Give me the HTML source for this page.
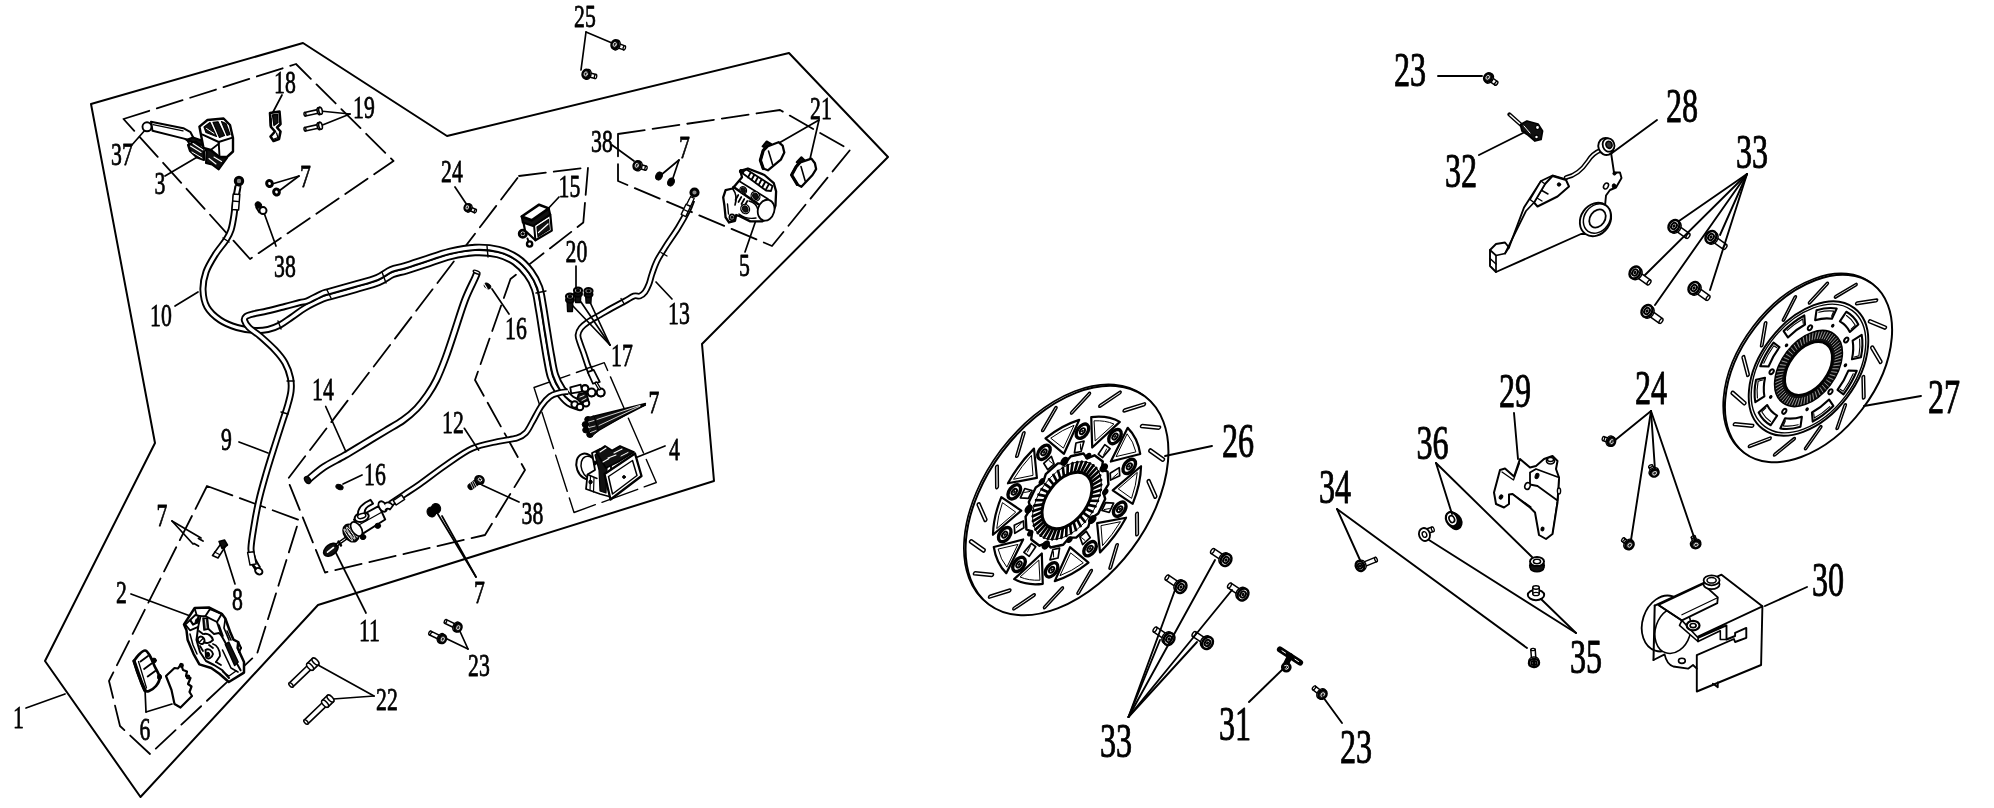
<!DOCTYPE html>
<html><head><meta charset="utf-8"><title>Brake system parts diagram</title>
<style>
html,body{margin:0;padding:0;background:#fff;}
body{width:1994px;height:808px;overflow:hidden;font-family:"Liberation Serif",serif;}
svg{display:block}
</style></head><body>
<svg width="1994" height="808" viewBox="0 0 1994 808" font-family="Liberation Serif, serif" stroke="#000" fill="none" stroke-linecap="round" stroke-linejoin="round">
<defs><filter id="nf" x="-10%" y="-10%" width="120%" height="120%"><feOffset dx="0" dy="0"/></filter></defs>
<rect x="0" y="0" width="1994" height="808" fill="#fff" stroke="none"/>
<path d="M91,104 L303,43 L447,136 L789,53 L888,157 L702,344 L714,481 L318,605 L140.5,797 L45,661 L155,443 Z" fill="none" stroke-width="2.0" />
<path d="M123.5,119 L296,64 L393.5,161 L250,259 Z" fill="none" stroke-width="1.8" stroke-dasharray="27 8" />
<path d="M519,176 L588,167.5 L583.3,222.5 L510.5,279 L475,380 L525,470 L485,535 L325,572.5 L287.5,479.5 Z" fill="none" stroke-width="1.8" stroke-dasharray="27 8" />
<path d="M618,134 L780,110 L850,150 L772,246 L618,181 Z" fill="none" stroke-width="1.8" stroke-dasharray="27 8" />
<path d="M534,387.5 L604.3,362.7 L656.3,482.5 L574,512.5 Z" fill="none" stroke-width="1.4" stroke-dasharray="38 7" />
<path d="M207,486 L299,520 L257,654 L150,754 L120,726 L109,681 Z" fill="none" stroke-width="1.8" stroke-dasharray="27 8" />
<path d="M238.0,186.0 C237.7,188.0 236.7,193.2 236.0,198.0 C235.3,202.8 234.8,209.7 234.0,215.0 C233.2,220.3 232.3,225.8 231.0,230.0 C229.7,234.2 228.7,235.8 226.0,240.0 C223.3,244.2 218.3,249.7 215.0,255.0 C211.7,260.3 208.0,266.2 206.0,272.0 C204.0,277.8 202.8,284.2 203.0,290.0 C203.2,295.8 204.2,302.0 207.0,307.0 C209.8,312.0 215.0,316.6 220.0,320.0 C225.0,323.4 231.2,325.8 237.0,327.5 C242.8,329.2 249.8,330.2 255.0,330.5 C260.2,330.8 263.8,330.4 268.0,329.5 C272.2,328.6 276.0,327.1 280.0,325.0 C284.0,322.9 287.8,319.8 292.0,317.0 C296.2,314.2 299.9,311.0 305.0,308.0 C310.1,305.0 318.5,301.0 322.8,299.1 C327.1,297.2 325.3,298.2 330.7,296.6 C336.2,295.0 347.7,291.9 355.8,289.6 C363.8,287.2 372.8,285.0 379.0,282.5 C385.2,280.0 388.6,276.4 393.1,274.5 C397.5,272.6 400.3,272.7 405.8,271.1 C411.2,269.4 418.4,267.0 425.8,264.6 C433.3,262.2 442.4,258.6 450.6,256.6 C458.8,254.6 467.3,253.0 475.1,252.7 C482.9,252.4 490.8,253.0 497.4,254.6 C503.9,256.2 509.6,258.9 514.5,262.2 C519.4,265.6 523.5,270.2 526.8,274.6 C530.2,279.1 532.5,283.2 534.4,288.9 C536.4,294.5 537.0,301.0 538.3,308.5 C539.7,315.9 541.0,325.3 542.3,333.4 C543.7,341.6 545.0,350.3 546.3,357.5 C547.7,364.7 548.5,371.2 550.4,376.9 C552.3,382.5 554.8,387.1 557.8,391.5 C560.8,395.9 564.8,400.5 568.4,403.2 C571.9,405.8 577.2,406.8 579.0,407.5" fill="none" stroke="#000" stroke-width="7.1" stroke-linecap="butt" stroke-linejoin="round"/>
<path d="M238.0,186.0 C237.7,188.0 236.7,193.2 236.0,198.0 C235.3,202.8 234.8,209.7 234.0,215.0 C233.2,220.3 232.3,225.8 231.0,230.0 C229.7,234.2 228.7,235.8 226.0,240.0 C223.3,244.2 218.3,249.7 215.0,255.0 C211.7,260.3 208.0,266.2 206.0,272.0 C204.0,277.8 202.8,284.2 203.0,290.0 C203.2,295.8 204.2,302.0 207.0,307.0 C209.8,312.0 215.0,316.6 220.0,320.0 C225.0,323.4 231.2,325.8 237.0,327.5 C242.8,329.2 249.8,330.2 255.0,330.5 C260.2,330.8 263.8,330.4 268.0,329.5 C272.2,328.6 276.0,327.1 280.0,325.0 C284.0,322.9 287.8,319.8 292.0,317.0 C296.2,314.2 299.9,311.0 305.0,308.0 C310.1,305.0 318.5,301.0 322.8,299.1 C327.1,297.2 325.3,298.2 330.7,296.6 C336.2,295.0 347.7,291.9 355.8,289.6 C363.8,287.2 372.8,285.0 379.0,282.5 C385.2,280.0 388.6,276.4 393.1,274.5 C397.5,272.6 400.3,272.7 405.8,271.1 C411.2,269.4 418.4,267.0 425.8,264.6 C433.3,262.2 442.4,258.6 450.6,256.6 C458.8,254.6 467.3,253.0 475.1,252.7 C482.9,252.4 490.8,253.0 497.4,254.6 C503.9,256.2 509.6,258.9 514.5,262.2 C519.4,265.6 523.5,270.2 526.8,274.6 C530.2,279.1 532.5,283.2 534.4,288.9 C536.4,294.5 537.0,301.0 538.3,308.5 C539.7,315.9 541.0,325.3 542.3,333.4 C543.7,341.6 545.0,350.3 546.3,357.5 C547.7,364.7 548.5,371.2 550.4,376.9 C552.3,382.5 554.8,387.1 557.8,391.5 C560.8,395.9 564.8,400.5 568.4,403.2 C571.9,405.8 577.2,406.8 579.0,407.5" fill="none" stroke="#fff" stroke-width="3.3" stroke-linecap="butt" stroke-linejoin="round"/>
<path d="M581.0,402.5 C579.4,401.9 574.7,401.2 571.6,398.8 C568.5,396.5 564.9,392.4 562.2,388.5 C559.6,384.5 557.3,380.5 555.6,375.1 C553.8,369.8 553.0,363.6 551.7,356.5 C550.3,349.4 549.0,340.7 547.7,332.6 C546.3,324.4 545.0,315.1 543.7,307.5 C542.3,300.0 541.6,293.1 539.6,287.1 C537.5,281.1 534.8,276.3 531.2,271.4 C527.5,266.5 522.9,261.4 517.5,257.8 C512.1,254.1 505.7,251.1 498.6,249.4 C491.5,247.6 483.1,247.0 474.9,247.3 C466.7,247.6 457.8,249.4 449.4,251.4 C440.9,253.4 431.7,257.0 424.2,259.4 C416.6,261.9 409.8,264.2 404.2,265.9 C398.7,267.6 395.5,267.6 390.9,269.5 C386.4,271.4 383.1,275.0 377.0,277.5 C370.9,280.0 362.2,282.1 354.2,284.4 C346.3,286.7 334.8,289.8 329.3,291.4 C323.7,293.0 324.9,292.3 321.2,293.9 C317.5,295.5 310.5,299.6 307.0,301.0 C303.5,302.4 303.7,301.6 300.0,302.5 C296.3,303.4 290.5,305.1 285.0,306.5 C279.5,307.9 272.3,309.8 267.0,311.0 C261.7,312.2 256.5,313.1 253.0,314.0 C249.5,314.9 247.4,315.4 246.0,316.5 C244.6,317.6 244.0,318.7 244.5,320.5 C245.0,322.3 246.4,324.9 249.0,327.5 C251.6,330.1 255.7,332.2 260.0,336.0 C264.3,339.8 270.8,345.5 275.0,350.0 C279.2,354.5 282.4,358.3 285.0,363.0 C287.6,367.7 289.5,373.3 290.5,378.0 C291.5,382.7 291.5,386.3 291.0,391.0 C290.5,395.7 289.0,400.7 287.5,406.0 C286.0,411.3 284.2,416.0 282.0,423.0 C279.8,430.0 276.7,439.5 274.0,448.0 C271.3,456.5 268.5,465.3 266.0,474.0 C263.5,482.7 261.0,491.3 259.0,500.0 C257.0,508.7 255.3,518.0 254.0,526.0 C252.7,534.0 251.2,542.3 251.0,548.0 C250.8,553.7 251.8,556.5 253.0,560.0 C254.2,563.5 257.2,567.5 258.0,569.0" fill="none" stroke="#000" stroke-width="7.1" stroke-linecap="butt" stroke-linejoin="round"/>
<path d="M581.0,402.5 C579.4,401.9 574.7,401.2 571.6,398.8 C568.5,396.5 564.9,392.4 562.2,388.5 C559.6,384.5 557.3,380.5 555.6,375.1 C553.8,369.8 553.0,363.6 551.7,356.5 C550.3,349.4 549.0,340.7 547.7,332.6 C546.3,324.4 545.0,315.1 543.7,307.5 C542.3,300.0 541.6,293.1 539.6,287.1 C537.5,281.1 534.8,276.3 531.2,271.4 C527.5,266.5 522.9,261.4 517.5,257.8 C512.1,254.1 505.7,251.1 498.6,249.4 C491.5,247.6 483.1,247.0 474.9,247.3 C466.7,247.6 457.8,249.4 449.4,251.4 C440.9,253.4 431.7,257.0 424.2,259.4 C416.6,261.9 409.8,264.2 404.2,265.9 C398.7,267.6 395.5,267.6 390.9,269.5 C386.4,271.4 383.1,275.0 377.0,277.5 C370.9,280.0 362.2,282.1 354.2,284.4 C346.3,286.7 334.8,289.8 329.3,291.4 C323.7,293.0 324.9,292.3 321.2,293.9 C317.5,295.5 310.5,299.6 307.0,301.0 C303.5,302.4 303.7,301.6 300.0,302.5 C296.3,303.4 290.5,305.1 285.0,306.5 C279.5,307.9 272.3,309.8 267.0,311.0 C261.7,312.2 256.5,313.1 253.0,314.0 C249.5,314.9 247.4,315.4 246.0,316.5 C244.6,317.6 244.0,318.7 244.5,320.5 C245.0,322.3 246.4,324.9 249.0,327.5 C251.6,330.1 255.7,332.2 260.0,336.0 C264.3,339.8 270.8,345.5 275.0,350.0 C279.2,354.5 282.4,358.3 285.0,363.0 C287.6,367.7 289.5,373.3 290.5,378.0 C291.5,382.7 291.5,386.3 291.0,391.0 C290.5,395.7 289.0,400.7 287.5,406.0 C286.0,411.3 284.2,416.0 282.0,423.0 C279.8,430.0 276.7,439.5 274.0,448.0 C271.3,456.5 268.5,465.3 266.0,474.0 C263.5,482.7 261.0,491.3 259.0,500.0 C257.0,508.7 255.3,518.0 254.0,526.0 C252.7,534.0 251.2,542.3 251.0,548.0 C250.8,553.7 251.8,556.5 253.0,560.0 C254.2,563.5 257.2,567.5 258.0,569.0" fill="none" stroke="#fff" stroke-width="3.3" stroke-linecap="butt" stroke-linejoin="round"/>
<path d="M477.0,273.0 C476.7,273.8 477.0,273.5 475.0,278.0 C473.0,282.5 468.3,291.3 465.0,300.0 C461.7,308.7 458.2,320.3 455.0,330.0 C451.8,339.7 448.6,349.7 445.5,358.0 C442.4,366.3 439.4,373.8 436.4,380.0 C433.4,386.2 430.8,390.2 427.5,395.0 C424.2,399.8 420.7,404.4 416.6,408.6 C412.5,412.8 408.2,416.5 403.0,420.2 C397.8,423.9 391.7,427.1 385.3,431.0 C378.9,434.9 371.7,439.2 364.9,443.3 C358.1,447.4 351.3,451.7 344.5,455.6 C337.7,459.6 330.0,463.0 324.0,467.0 C318.0,471.0 311.1,477.3 308.5,479.4" fill="none" stroke="#000" stroke-width="7.8" stroke-linecap="butt" stroke-linejoin="round"/>
<path d="M477.0,273.0 C476.7,273.8 477.0,273.5 475.0,278.0 C473.0,282.5 468.3,291.3 465.0,300.0 C461.7,308.7 458.2,320.3 455.0,330.0 C451.8,339.7 448.6,349.7 445.5,358.0 C442.4,366.3 439.4,373.8 436.4,380.0 C433.4,386.2 430.8,390.2 427.5,395.0 C424.2,399.8 420.7,404.4 416.6,408.6 C412.5,412.8 408.2,416.5 403.0,420.2 C397.8,423.9 391.7,427.1 385.3,431.0 C378.9,434.9 371.7,439.2 364.9,443.3 C358.1,447.4 351.3,451.7 344.5,455.6 C337.7,459.6 330.0,463.0 324.0,467.0 C318.0,471.0 311.1,477.3 308.5,479.4" fill="none" stroke="#fff" stroke-width="4.0" stroke-linecap="butt" stroke-linejoin="round"/>
<path d="M390.0,504.0 C392.5,502.3 400.0,497.3 405.0,494.0 C410.0,490.7 413.2,488.8 420.0,484.0 C426.8,479.2 437.3,470.9 446.0,465.0 C454.7,459.1 463.3,452.4 472.0,448.5 C480.7,444.6 490.5,443.2 498.0,441.5 C505.5,439.8 512.4,439.4 517.0,438.0 C521.6,436.6 523.1,435.6 525.7,432.9 C528.3,430.2 530.0,426.1 532.6,421.6 C535.2,417.1 538.4,410.2 541.3,406.0 C544.2,401.8 547.1,398.7 550.0,396.5 C552.9,394.3 555.6,393.8 558.6,393.0 C561.6,392.2 566.4,391.8 568.0,391.5" fill="none" stroke="#000" stroke-width="6.6" stroke-linecap="butt" stroke-linejoin="round"/>
<path d="M390.0,504.0 C392.5,502.3 400.0,497.3 405.0,494.0 C410.0,490.7 413.2,488.8 420.0,484.0 C426.8,479.2 437.3,470.9 446.0,465.0 C454.7,459.1 463.3,452.4 472.0,448.5 C480.7,444.6 490.5,443.2 498.0,441.5 C505.5,439.8 512.4,439.4 517.0,438.0 C521.6,436.6 523.1,435.6 525.7,432.9 C528.3,430.2 530.0,426.1 532.6,421.6 C535.2,417.1 538.4,410.2 541.3,406.0 C544.2,401.8 547.1,398.7 550.0,396.5 C552.9,394.3 555.6,393.8 558.6,393.0 C561.6,392.2 566.4,391.8 568.0,391.5" fill="none" stroke="#fff" stroke-width="3.0" stroke-linecap="butt" stroke-linejoin="round"/>
<path d="M692.0,200.0 C691.3,201.7 690.3,205.3 688.0,210.0 C685.7,214.7 681.7,222.0 678.0,228.0 C674.3,234.0 669.5,240.5 666.0,246.0 C662.5,251.5 659.3,256.3 657.0,261.0 C654.7,265.7 653.3,270.2 652.0,274.0 C650.7,277.8 650.2,281.0 649.0,284.0 C647.8,287.0 646.5,290.0 645.0,292.0 C643.5,294.0 641.8,295.3 640.0,296.0 C638.2,296.7 636.5,295.2 634.0,296.0 C631.5,296.8 628.7,299.0 625.0,301.0 C621.3,303.0 616.2,305.7 612.0,308.0 C607.8,310.3 604.0,312.7 600.0,315.0 C596.0,317.3 591.2,319.8 588.0,322.0 C584.8,324.2 582.7,325.8 581.0,328.0 C579.3,330.2 578.2,332.5 578.0,335.0 C577.8,337.5 579.0,339.8 580.0,343.0 C581.0,346.2 582.7,350.2 584.0,354.0 C585.3,357.8 586.7,362.5 588.0,366.0 C589.3,369.5 591.3,373.5 592.0,375.0" fill="none" stroke="#000" stroke-width="6.6" stroke-linecap="butt" stroke-linejoin="round"/>
<path d="M692.0,200.0 C691.3,201.7 690.3,205.3 688.0,210.0 C685.7,214.7 681.7,222.0 678.0,228.0 C674.3,234.0 669.5,240.5 666.0,246.0 C662.5,251.5 659.3,256.3 657.0,261.0 C654.7,265.7 653.3,270.2 652.0,274.0 C650.7,277.8 650.2,281.0 649.0,284.0 C647.8,287.0 646.5,290.0 645.0,292.0 C643.5,294.0 641.8,295.3 640.0,296.0 C638.2,296.7 636.5,295.2 634.0,296.0 C631.5,296.8 628.7,299.0 625.0,301.0 C621.3,303.0 616.2,305.7 612.0,308.0 C607.8,310.3 604.0,312.7 600.0,315.0 C596.0,317.3 591.2,319.8 588.0,322.0 C584.8,324.2 582.7,325.8 581.0,328.0 C579.3,330.2 578.2,332.5 578.0,335.0 C577.8,337.5 579.0,339.8 580.0,343.0 C581.0,346.2 582.7,350.2 584.0,354.0 C585.3,357.8 586.7,362.5 588.0,366.0 C589.3,369.5 591.3,373.5 592.0,375.0" fill="none" stroke="#fff" stroke-width="3.0" stroke-linecap="butt" stroke-linejoin="round"/>
<text transform="translate(574,27) scale(0.68,1)" font-size="32" stroke-width="0.75" fill="#000" filter="url(#nf)">25</text>
<text transform="translate(274,93) scale(0.68,1)" font-size="32" stroke-width="0.75" fill="#000" filter="url(#nf)">18</text>
<text transform="translate(353,118) scale(0.68,1)" font-size="32" stroke-width="0.75" fill="#000" filter="url(#nf)">19</text>
<text transform="translate(810,119) scale(0.68,1)" font-size="32" stroke-width="0.75" fill="#000" filter="url(#nf)">21</text>
<text transform="translate(111,165) scale(0.68,1)" font-size="32" stroke-width="0.75" fill="#000" filter="url(#nf)">37</text>
<text transform="translate(154.5,194) scale(0.68,1)" font-size="32" stroke-width="0.75" fill="#000" filter="url(#nf)">3</text>
<text transform="translate(300,187) scale(0.68,1)" font-size="32" stroke-width="0.75" fill="#000" filter="url(#nf)">7</text>
<text transform="translate(591,151.5) scale(0.68,1)" font-size="32" stroke-width="0.75" fill="#000" filter="url(#nf)">38</text>
<text transform="translate(679,158) scale(0.68,1)" font-size="32" stroke-width="0.75" fill="#000" filter="url(#nf)">7</text>
<text transform="translate(441,181.5) scale(0.68,1)" font-size="32" stroke-width="0.75" fill="#000" filter="url(#nf)">24</text>
<text transform="translate(558.5,196.5) scale(0.68,1)" font-size="32" stroke-width="0.75" fill="#000" filter="url(#nf)">15</text>
<text transform="translate(274,277) scale(0.68,1)" font-size="32" stroke-width="0.75" fill="#000" filter="url(#nf)">38</text>
<text transform="translate(739,275.5) scale(0.68,1)" font-size="32" stroke-width="0.75" fill="#000" filter="url(#nf)">5</text>
<text transform="translate(565.5,261.5) scale(0.68,1)" font-size="32" stroke-width="0.75" fill="#000" filter="url(#nf)">20</text>
<text transform="translate(150,325.5) scale(0.68,1)" font-size="32" stroke-width="0.75" fill="#000" filter="url(#nf)">10</text>
<text transform="translate(668,324) scale(0.68,1)" font-size="32" stroke-width="0.75" fill="#000" filter="url(#nf)">13</text>
<text transform="translate(505,339) scale(0.68,1)" font-size="32" stroke-width="0.75" fill="#000" filter="url(#nf)">16</text>
<text transform="translate(611,365.5) scale(0.68,1)" font-size="32" stroke-width="0.75" fill="#000" filter="url(#nf)">17</text>
<text transform="translate(312,399.5) scale(0.68,1)" font-size="32" stroke-width="0.75" fill="#000" filter="url(#nf)">14</text>
<text transform="translate(648.5,413) scale(0.68,1)" font-size="32" stroke-width="0.75" fill="#000" filter="url(#nf)">7</text>
<text transform="translate(442,433) scale(0.68,1)" font-size="32" stroke-width="0.75" fill="#000" filter="url(#nf)">12</text>
<text transform="translate(221,450) scale(0.68,1)" font-size="32" stroke-width="0.75" fill="#000" filter="url(#nf)">9</text>
<text transform="translate(669,460) scale(0.68,1)" font-size="32" stroke-width="0.75" fill="#000" filter="url(#nf)">4</text>
<text transform="translate(364,485) scale(0.68,1)" font-size="32" stroke-width="0.75" fill="#000" filter="url(#nf)">16</text>
<text transform="translate(521.5,524) scale(0.68,1)" font-size="32" stroke-width="0.75" fill="#000" filter="url(#nf)">38</text>
<text transform="translate(156.5,525.5) scale(0.68,1)" font-size="32" stroke-width="0.75" fill="#000" filter="url(#nf)">7</text>
<text transform="translate(232,610) scale(0.68,1)" font-size="32" stroke-width="0.75" fill="#000" filter="url(#nf)">8</text>
<text transform="translate(116,603) scale(0.68,1)" font-size="32" stroke-width="0.75" fill="#000" filter="url(#nf)">2</text>
<text transform="translate(474,603) scale(0.68,1)" font-size="32" stroke-width="0.75" fill="#000" filter="url(#nf)">7</text>
<text transform="translate(359,641) scale(0.68,1)" font-size="32" stroke-width="0.75" fill="#000" filter="url(#nf)">11</text>
<text transform="translate(468,676) scale(0.68,1)" font-size="32" stroke-width="0.75" fill="#000" filter="url(#nf)">23</text>
<text transform="translate(376,710) scale(0.68,1)" font-size="32" stroke-width="0.75" fill="#000" filter="url(#nf)">22</text>
<text transform="translate(139.5,740) scale(0.68,1)" font-size="32" stroke-width="0.75" fill="#000" filter="url(#nf)">6</text>
<text transform="translate(13,728) scale(0.68,1)" font-size="32" stroke-width="0.75" fill="#000" filter="url(#nf)">1</text>
<line x1="586" y1="32" x2="612" y2="43" stroke-width="1.7" />
<line x1="586" y1="32" x2="581" y2="70" stroke-width="1.7" />
<line x1="282" y1="95" x2="272" y2="114" stroke-width="1.7" />
<line x1="350" y1="114" x2="320" y2="111" stroke-width="1.7" />
<line x1="350" y1="114" x2="320" y2="126" stroke-width="1.7" />
<line x1="819" y1="120" x2="779" y2="143" stroke-width="1.7" />
<line x1="819" y1="120" x2="810" y2="159" stroke-width="1.7" />
<line x1="131" y1="146" x2="146" y2="129" stroke-width="1.7" />
<line x1="165" y1="176" x2="199" y2="156" stroke-width="1.7" />
<line x1="299" y1="176" x2="272" y2="184" stroke-width="1.7" />
<line x1="299" y1="176" x2="279" y2="191" stroke-width="1.7" />
<line x1="612" y1="145" x2="634" y2="161" stroke-width="1.7" />
<line x1="679" y1="160" x2="661" y2="175" stroke-width="1.7" />
<line x1="679" y1="160" x2="672" y2="181" stroke-width="1.7" />
<line x1="455" y1="187" x2="467" y2="205" stroke-width="1.7" />
<line x1="559" y1="197" x2="545" y2="212" stroke-width="1.7" />
<line x1="276" y1="246" x2="263" y2="210" stroke-width="1.7" />
<line x1="745" y1="252" x2="756" y2="220" stroke-width="1.7" />
<line x1="576" y1="266" x2="576" y2="290" stroke-width="1.7" />
<line x1="175" y1="306" x2="198" y2="292" stroke-width="1.7" />
<line x1="672" y1="299" x2="656" y2="282" stroke-width="1.7" />
<line x1="509" y1="314" x2="492" y2="289" stroke-width="1.7" />
<line x1="610" y1="345" x2="572" y2="305" stroke-width="1.7" />
<line x1="610" y1="345" x2="581" y2="302" stroke-width="1.7" />
<line x1="610" y1="345" x2="589" y2="300" stroke-width="1.7" />
<line x1="325.7" y1="406.5" x2="345.8" y2="451.5" stroke-width="1.7" />
<line x1="645" y1="405" x2="588" y2="420" stroke-width="1.7" />
<line x1="645" y1="405" x2="590" y2="428" stroke-width="1.7" />
<line x1="645" y1="405" x2="589" y2="434" stroke-width="1.7" />
<line x1="464.3" y1="428.3" x2="478.6" y2="450.1" stroke-width="1.7" />
<line x1="239" y1="442" x2="268" y2="453" stroke-width="1.7" />
<line x1="665" y1="446" x2="625" y2="462" stroke-width="1.7" />
<line x1="362" y1="475" x2="343" y2="484" stroke-width="1.7" />
<line x1="519" y1="502" x2="482" y2="485" stroke-width="1.7" />
<line x1="172" y1="521" x2="201" y2="538" stroke-width="1.7" />
<line x1="172" y1="521" x2="193" y2="544" stroke-width="1.7" />
<line x1="235" y1="584" x2="224" y2="549" stroke-width="1.7" />
<line x1="131" y1="594" x2="193" y2="617" stroke-width="1.7" />
<line x1="476" y1="577" x2="436" y2="511" stroke-width="1.7" />
<line x1="476" y1="577" x2="442" y2="516" stroke-width="1.7" />
<line x1="366" y1="613" x2="334" y2="549" stroke-width="1.7" />
<line x1="468" y1="649" x2="443" y2="637" stroke-width="1.7" />
<line x1="468" y1="649" x2="458" y2="627" stroke-width="1.7" />
<line x1="374" y1="696" x2="318" y2="665" stroke-width="1.7" />
<line x1="374" y1="696" x2="333" y2="699" stroke-width="1.7" />
<line x1="146" y1="712" x2="145" y2="689" stroke-width="1.7" />
<line x1="146" y1="712" x2="172" y2="704" stroke-width="1.7" />
<line x1="26" y1="708" x2="65" y2="694" stroke-width="1.7" />
<line x1="223" y1="238" x2="229" y2="242" stroke-width="1.4" />
<line x1="327" y1="290" x2="331" y2="298" stroke-width="1.4" />
<line x1="382" y1="272" x2="386" y2="283" stroke-width="1.4" />
<line x1="278" y1="321" x2="281" y2="329" stroke-width="1.4" />
<line x1="287" y1="381" x2="294" y2="381" stroke-width="1.4" />
<line x1="281" y1="412" x2="288" y2="414" stroke-width="1.4" />
<line x1="536" y1="293" x2="546" y2="291" stroke-width="1.4" />
<line x1="487" y1="246" x2="488" y2="257" stroke-width="1.4" />
<path d="M151,121.8 L183.3,128.2 L190.5,132.2 L194.5,140 L190,145 L187,139.5 L183,138.4 L152.5,130.8 Z" fill="#fff" stroke-width="2.0" />
<line x1="153" y1="124.6" x2="183" y2="130.8" stroke-width="1.3" />
<circle cx="147" cy="126.8" r="4.5" fill="#fff" stroke-width="1.9"/>
<path d="M186.5,140 L193,137.5 L203,141 L206.5,152 L206,163 L212,164.5 L218.7,169.5 L227,158 L221,152 L212,150 L205,146 Z" fill="#111" stroke-width="2.0" />
<path d="M188,145 L196,141.5 L204,151 L204,160 L197,157.5 L190,151 Z" fill="#111" stroke-width="2.2" />
<line x1="190.5" y1="146" x2="201" y2="152.5" stroke-width="1.1" stroke="#fff"/>
<line x1="193" y1="143.5" x2="203" y2="150" stroke-width="1.1" stroke="#fff"/>
<line x1="192" y1="152" x2="202" y2="158" stroke-width="1.0" stroke="#fff"/>
<line x1="209" y1="158.5" x2="216" y2="164" stroke-width="1.1" stroke="#fff"/>
<line x1="214" y1="157" x2="221.5" y2="161.5" stroke-width="1.1" stroke="#fff"/>
<path d="M199.4,126.6 L207.5,120 L223.6,118.5 L230,125 L233,138 L233,151.5 L227,157 L219.5,157 L210.7,150 L203.5,148 Z" fill="#fff" stroke-width="2.4" />
<path d="M202.6,134.6 L218.7,142 L232.5,137.6" fill="none" stroke-width="2.0" />
<line x1="218.7" y1="142" x2="219.5" y2="156.6" stroke-width="1.9" />
<line x1="210.7" y1="150" x2="219" y2="143.5" stroke-width="1.6" />
<path d="M204,127 L210,122.5 L216.5,136.5 L206,132.5 Z" fill="#111" stroke-width="1.2" />
<path d="M213,122.3 L218,121.8 L224.5,135.5 L219.5,137.5 Z" fill="#111" stroke-width="1.2" />
<path d="M221.5,121.6 L226,123.5 L230,134.5 L227,135.3 Z" fill="#111" stroke-width="1.2" />
<line x1="206.5" y1="128.5" x2="214" y2="133.5" stroke-width="1.0" stroke="#fff"/>
<path d="M270,113 L279.5,111.5 L280.5,124 L277,127.5 L280.5,131.5 L279,139 L273.5,141 L270.5,136.5 L275,131.5 L271,127 Z" fill="#fff" stroke-width="2.6" />
<path d="M272.5,115 L277.5,114.2 L278,122.5 L274,125.5 Z" fill="#111" stroke-width="1.4" />
<path d="M276.5,133 L278,137.5 L274,139" fill="none" stroke-width="1.3" />
<line x1="270.5" y1="119" x2="270.8" y2="126" stroke-width="2.4" />
<path d="M305.39646956858235,116.05579380372187 L319.335763965274,112.9082111980173 L318.5428248281093,109.39662359057355 L304.60353043141765,112.54420619627813 Z" fill="#fff" stroke-width="1.6" />
<ellipse cx="305" cy="114.3" rx="0.9900000000000001" ry="1.8" transform="rotate(-12.724355685422369 305 114.3)" fill="#fff" stroke-width="1.5" />
<path d="M319.7102074467129,114.5664609015324 L321.27091305002125,114.21404350723697 L319.72908694997875,107.38595649276303 L318.1683813466704,107.73837388705846 Z" fill="#fff" stroke-width="1.6" />
<ellipse cx="318.93929439669165" cy="111.15241739429543" rx="1.75" ry="3.5" transform="rotate(-12.724355685422369 318.93929439669165 111.15241739429543)" fill="#fff" stroke-width="1.5" />
<ellipse cx="320.5" cy="110.8" rx="1.75" ry="3.5" transform="rotate(-12.724355685422369 320.5 110.8)" fill="#fff" stroke-width="1.6" />
<path d="M305.39646956858235,131.05579380372188 L319.335763965274,127.9082111980173 L318.5428248281093,124.39662359057355 L304.60353043141765,127.54420619627814 Z" fill="#fff" stroke-width="1.6" />
<ellipse cx="305" cy="129.3" rx="0.9900000000000001" ry="1.8" transform="rotate(-12.724355685422418 305 129.3)" fill="#fff" stroke-width="1.5" />
<path d="M319.7102074467129,129.5664609015324 L321.27091305002125,129.21404350723697 L319.72908694997875,122.38595649276303 L318.1683813466704,122.73837388705846 Z" fill="#fff" stroke-width="1.6" />
<ellipse cx="318.93929439669165" cy="126.15241739429543" rx="1.75" ry="3.5" transform="rotate(-12.724355685422418 318.93929439669165 126.15241739429543)" fill="#fff" stroke-width="1.5" />
<ellipse cx="320.5" cy="125.8" rx="1.75" ry="3.5" transform="rotate(-12.724355685422418 320.5 125.8)" fill="#fff" stroke-width="1.6" />
<path d="M233.2,194 L239.8,194.6 L238.6,210 L232,209.4 Z" fill="#fff" stroke-width="1.5" />
<line x1="232.6" y1="201" x2="239.2" y2="201.6" stroke-width="1.3" />
<path d="M236,185 L240.5,186 L238.7,194.4 L234.3,194 Z" fill="#fff" stroke-width="1.4" />
<circle cx="239" cy="181" r="3.7" fill="#888" stroke-width="3.0"/>
<ellipse cx="269.5" cy="183.5" rx="2.8" ry="3.1" transform="rotate(-20 269.5 183.5)" fill="#fff" stroke-width="3.0" />
<ellipse cx="276.5" cy="192" rx="2.8" ry="3.1" transform="rotate(-20 276.5 192)" fill="#fff" stroke-width="3.0" />
<ellipse cx="258.4" cy="205" rx="3.3" ry="2.8" transform="rotate(40 258.4 205)" fill="#000" stroke-width="1" />
<line x1="256.3" y1="207.5" x2="259.3" y2="212.2" stroke-width="2.0" />
<circle cx="263" cy="210.6" r="3.5" fill="#fff" stroke-width="2.0"/>
<path d="M466.73928712886675,209.13135401666597 L474.53353409738196,212.76587106763597 L476.05495983964846,209.50316303430404 L468.26071287113325,205.86864598333403 Z" fill="#fff" stroke-width="1.5" />
<ellipse cx="475.2942469685152" cy="211.13451705097" rx="0.9900000000000001" ry="1.8" transform="rotate(25 475.2942469685152 211.13451705097)" fill="#fff" stroke-width="1.4" />
<ellipse cx="468.859461680555" cy="208.13392739261104" rx="2.8800000000000003" ry="4.2" transform="rotate(25 468.859461680555 208.13392739261104)" fill="#fff" stroke-width="1.5" />
<ellipse cx="467.5" cy="207.5" rx="2.8800000000000003" ry="3.6" transform="rotate(25 467.5 207.5)" fill="#222" stroke-width="2.2" />
<ellipse cx="467.228107663889" cy="207.3732145214778" rx="1.2240000000000002" ry="1.6560000000000001" transform="rotate(25 467.228107663889 207.3732145214778)" fill="none" stroke-width="0.9" stroke="#ddd"/>
<path d="M614.2817576990161,46.473354503650405 L623.5847146447966,49.85935392257453 L625.0211992467644,45.91264491527372 L615.7182423009839,42.526645496349595 Z" fill="#fff" stroke-width="1.5" />
<ellipse cx="624.3029569457805" cy="47.88599941892412" rx="1.1550000000000002" ry="2.1" transform="rotate(20 624.3029569457805 47.88599941892412)" fill="#fff" stroke-width="1.4" />
<ellipse cx="616.4095389311789" cy="45.013030214988504" rx="3.5200000000000005" ry="5.0" transform="rotate(20 616.4095389311789 45.013030214988504)" fill="#fff" stroke-width="1.5" />
<ellipse cx="615" cy="44.5" rx="3.5200000000000005" ry="4.4" transform="rotate(20 615 44.5)" fill="#222" stroke-width="2.2" />
<ellipse cx="614.7180922137642" cy="44.3973939570023" rx="1.4960000000000002" ry="2.0240000000000005" transform="rotate(20 614.7180922137642 44.3973939570023)" fill="none" stroke-width="0.9" stroke="#ddd"/>
<path d="M585.4564800052847,76.02844423520705 L595.0191456855465,78.590752781722 L596.1061856749772,74.53386431130791 L586.5435199947153,71.97155576479295 Z" fill="#fff" stroke-width="1.5" />
<ellipse cx="595.5626656802618" cy="76.56230854651496" rx="1.1550000000000002" ry="2.1" transform="rotate(15 595.5626656802618 76.56230854651496)" fill="#fff" stroke-width="1.4" />
<ellipse cx="587.4488887394336" cy="74.38822856765378" rx="3.5200000000000005" ry="5.0" transform="rotate(15 587.4488887394336 74.38822856765378)" fill="#fff" stroke-width="1.5" />
<ellipse cx="586" cy="74" rx="3.5200000000000005" ry="4.4" transform="rotate(15 586 74)" fill="#222" stroke-width="2.2" />
<ellipse cx="585.7102222521132" cy="73.92235428646924" rx="1.4960000000000002" ry="2.0240000000000005" transform="rotate(15 585.7102222521132 73.92235428646924)" fill="none" stroke-width="0.9" stroke="#ddd"/>
<circle cx="522.8" cy="233.8" r="3.6" fill="#fff" stroke-width="2.8"/>
<ellipse cx="522.8" cy="233.8" rx="1.2" ry="1.2" transform="rotate(0 522.8 233.8)" fill="#000" stroke-width="1" />
<circle cx="529.6" cy="244" r="2.6" fill="#fff" stroke-width="2.4"/>
<line x1="527.5" y1="238.5" x2="528.5" y2="241.5" stroke-width="2.0" />
<path d="M523.2,221 L534,224.7 L550.3,214.5 L551.8,230.6 L535.4,240.3 L525,230.5 Z" fill="#fff" stroke-width="2.2" />
<line x1="534" y1="224.7" x2="535.4" y2="240.3" stroke-width="2.0" />
<path d="M537,227 L548.5,219.5 L549.3,229.5 L538,236.8 Z" fill="#111" stroke-width="1.2" />
<line x1="538.5" y1="232.5" x2="548" y2="224" stroke-width="1.3" stroke="#fff"/>
<path d="M521.7,216.5 L531.7,220.2 L548.8,208.4 L550.2,214.5 L533.2,226 L522.8,222.5 Z" fill="#111" stroke-width="2.0" />
<path d="M521.7,216.5 L539.1,204.7 L548.8,208.4 L531.7,220.2 Z" fill="#fff" stroke-width="2.6" />
<ellipse cx="487.5" cy="286" rx="3.6" ry="2.3" transform="rotate(35 487.5 286)" fill="#000" stroke-width="1" />
<line x1="484" y1="283.5" x2="487" y2="288.5" stroke-width="1.2" stroke="#fff"/>
<ellipse cx="339.5" cy="487" rx="3.8" ry="2.4" transform="rotate(25 339.5 487)" fill="#000" stroke-width="1" />
<path d="M567.0,298.5 L573.0,298.5 L572.4,311.5 L567.6,311.5 Z" fill="#111" stroke-width="1.4" />
<ellipse cx="570" cy="299.9" rx="4.0" ry="2.8" transform="rotate(0 570 299.9)" fill="#111" stroke-width="2.0" />
<ellipse cx="570" cy="296.5" rx="4.0" ry="2.9" transform="rotate(0 570 296.5)" fill="#fff" stroke-width="2.2" />
<ellipse cx="570" cy="296.5" rx="1.7999999999999998" ry="1.2" transform="rotate(0 570 296.5)" fill="#000" stroke-width="1.1" />
<path d="M575.0,292.5 L581.0,292.5 L580.4,302.5 L575.6,302.5 Z" fill="#111" stroke-width="1.4" />
<ellipse cx="578" cy="293.9" rx="4.0" ry="2.8" transform="rotate(0 578 293.9)" fill="#111" stroke-width="2.0" />
<ellipse cx="578" cy="290.5" rx="4.0" ry="2.9" transform="rotate(0 578 290.5)" fill="#fff" stroke-width="2.2" />
<ellipse cx="578" cy="290.5" rx="1.7999999999999998" ry="1.2" transform="rotate(0 578 290.5)" fill="#000" stroke-width="1.1" />
<path d="M585.5,293 L591.5,293 L590.9,303 L586.1,303 Z" fill="#111" stroke-width="1.4" />
<ellipse cx="588.5" cy="294.4" rx="4.0" ry="2.8" transform="rotate(0 588.5 294.4)" fill="#111" stroke-width="2.0" />
<ellipse cx="588.5" cy="291" rx="4.0" ry="2.9" transform="rotate(0 588.5 291)" fill="#fff" stroke-width="2.2" />
<ellipse cx="588.5" cy="291" rx="1.7999999999999998" ry="1.2" transform="rotate(0 588.5 291)" fill="#000" stroke-width="1.1" />
<ellipse cx="307.6" cy="480" rx="2.6" ry="3.8" transform="rotate(-35 307.6 480)" fill="#111" stroke-width="1.4" />
<ellipse cx="476.6" cy="272.2" rx="3.6" ry="1.4" transform="rotate(22 476.6 272.2)" fill="#fff" stroke-width="1.4" />
<ellipse cx="330.8" cy="549.8" rx="8.2" ry="5.2" transform="rotate(-38 330.8 549.8)" fill="#111" stroke-width="1.6" />
<line x1="327.5" y1="552.2" x2="333.5" y2="547.5" stroke-width="1.6" stroke="#fff"/>
<line x1="336.5" y1="545" x2="346" y2="538.2" stroke-width="3.6" />
<line x1="337.5" y1="544.3" x2="345.5" y2="538.6" stroke-width="1.0" stroke="#fff"/>
<line x1="338.5" y1="541.5" x2="341" y2="545.5" stroke-width="2.4" />
<path d="M354,519.5 L379,505.9 L385.2,519.5 L361.7,534.4 Z" fill="#fff" stroke-width="1.9" />
<line x1="357" y1="526" x2="383" y2="511.5" stroke-width="1.2" />
<ellipse cx="363" cy="537" rx="2.8" ry="2.6" transform="rotate(0 363 537)" fill="#000" stroke-width="1" />
<ellipse cx="377.8" cy="525.8" rx="2.8" ry="2.6" transform="rotate(0 377.8 525.8)" fill="#000" stroke-width="1" />
<ellipse cx="351" cy="533" rx="7.0" ry="9.4" transform="rotate(-35 351 533)" fill="#111" stroke-width="1.8" />
<ellipse cx="348.2" cy="535.0" rx="1.2" ry="7.2" transform="rotate(-35 348.2 535.0)" fill="none" stroke-width="0.9" stroke="#fff"/>
<ellipse cx="350.8" cy="533.1" rx="1.2" ry="7.2" transform="rotate(-35 350.8 533.1)" fill="none" stroke-width="0.9" stroke="#fff"/>
<ellipse cx="353.4" cy="531.2" rx="1.2" ry="7.2" transform="rotate(-35 353.4 531.2)" fill="none" stroke-width="0.9" stroke="#fff"/>
<ellipse cx="356.5" cy="529" rx="4.6" ry="8.0" transform="rotate(-35 356.5 529)" fill="#fff" stroke-width="1.7" />
<ellipse cx="361.7" cy="517.2" rx="7.2" ry="4.6" transform="rotate(-15 361.7 517.2)" fill="#fff" stroke-width="2.0" />
<path d="M358,514.5 C357.5,509 361,505.5 365.5,502.5 L370.5,499.8 L373,503.6 L368,506.5 C365,508.5 364,511 364.5,515" fill="#fff" stroke-width="1.9" />
<ellipse cx="361.7" cy="516" rx="4.2" ry="2.4" transform="rotate(-15 361.7 516)" fill="#fff" stroke-width="1.5" />
<ellipse cx="382.7" cy="506.5" rx="3.6" ry="5.6" transform="rotate(-30 382.7 506.5)" fill="#fff" stroke-width="1.9" />
<path d="M385,503.5 C388,501.5 391,503 393,505.5 L390,509.5 C388,508 386.5,508.5 385.5,510" fill="#fff" stroke-width="1.7" />
<path d="M393.2,500.6 L401.6,495 L404.6,499.4 L396.2,505 Z" fill="#fff" stroke-width="1.5" />
<line x1="471" y1="486.5" x2="477" y2="482" stroke-width="7.0" stroke-linecap="round"/>
<line x1="469.5" y1="481.0" x2="473.0" y2="488.5" stroke-width="0.7" stroke="#fff"/>
<line x1="471.7" y1="481.2" x2="475.2" y2="488.3" stroke-width="0.7" stroke="#fff"/>
<line x1="473.9" y1="481.4" x2="477.4" y2="488.1" stroke-width="0.7" stroke="#fff"/>
<ellipse cx="479.5" cy="480" rx="4.6" ry="4.0" transform="rotate(35 479.5 480)" fill="#111" stroke-width="1.8" />
<ellipse cx="480" cy="479.6" rx="1.8" ry="1.5" transform="rotate(35 480 479.6)" fill="none" stroke-width="0.9" stroke="#fff"/>
<ellipse cx="431.5" cy="512" rx="4.4" ry="5.0" transform="rotate(-20 431.5 512)" fill="#000" stroke-width="1" />
<ellipse cx="436" cy="508.5" rx="4.6" ry="5.0" transform="rotate(-20 436 508.5)" fill="#000" stroke-width="1" />
<path d="M458.87674229357816,625.7024119074017 L446.3835050500197,619.6090529670336 L444.6300204628634,623.2042291522301 L457.12325770642184,629.2975880925983 Z" fill="#fff" stroke-width="1.5" />
<ellipse cx="445.50676275644156" cy="621.4066410596319" rx="1.1" ry="2.0" transform="rotate(206 445.50676275644156 621.4066410596319)" fill="#fff" stroke-width="1.4" />
<ellipse cx="456.6518089305512" cy="626.8424432798164" rx="3.5200000000000005" ry="5.0" transform="rotate(206 456.6518089305512 626.8424432798164)" fill="#fff" stroke-width="1.5" />
<ellipse cx="458" cy="627.5" rx="3.5200000000000005" ry="4.4" transform="rotate(206 458 627.5)" fill="#222" stroke-width="2.2" />
<ellipse cx="458.2696382138898" cy="627.6315113440368" rx="1.4960000000000002" ry="2.0240000000000005" transform="rotate(206 458.2696382138898 627.6315113440368)" fill="none" stroke-width="0.9" stroke="#ddd"/>
<path d="M443.37674229357816,637.2024119074017 L430.8835050500197,631.1090529670336 L429.1300204628634,634.7042291522301 L441.62325770642184,640.7975880925983 Z" fill="#fff" stroke-width="1.5" />
<ellipse cx="430.00676275644156" cy="632.9066410596319" rx="1.1" ry="2.0" transform="rotate(206 430.00676275644156 632.9066410596319)" fill="#fff" stroke-width="1.4" />
<ellipse cx="441.1518089305512" cy="638.3424432798164" rx="3.5200000000000005" ry="5.0" transform="rotate(206 441.1518089305512 638.3424432798164)" fill="#fff" stroke-width="1.5" />
<ellipse cx="442.5" cy="639" rx="3.5200000000000005" ry="4.4" transform="rotate(206 442.5 639)" fill="#222" stroke-width="2.2" />
<ellipse cx="442.7696382138898" cy="639.1315113440368" rx="1.4960000000000002" ry="2.0240000000000005" transform="rotate(206 442.7696382138898 639.1315113440368)" fill="none" stroke-width="0.9" stroke="#ddd"/>
<path d="M292.8690079960693,686.9485402512212 L311.9563961871216,668.6402291291914 L308.218380194983,664.7431486267491 L289.1309920039307,683.0514597487788 Z" fill="#fff" stroke-width="1.6" />
<ellipse cx="291" cy="685" rx="1.4850000000000003" ry="2.7" transform="rotate(-43.80651057601796 291 685)" fill="#fff" stroke-width="1.5" />
<path d="M313.1331789994615,669.8670878058863 L318.5457908084092,664.675398927916 L312.4542091915908,658.324601072084 L307.0415973826431,663.5162899500542 Z" fill="#fff" stroke-width="1.6" />
<ellipse cx="310.0873881910523" cy="666.6916888779703" rx="2.2" ry="4.4" transform="rotate(-43.80651057601796 310.0873881910523 666.6916888779703)" fill="#fff" stroke-width="1.5" />
<ellipse cx="315.5" cy="661.5" rx="2.2" ry="4.4" transform="rotate(-43.80651057601796 315.5 661.5)" fill="#fff" stroke-width="1.6" />
<path d="M307.8690079960693,723.9485402512212 L326.9563961871216,705.6402291291914 L323.218380194983,701.7431486267491 L304.1309920039307,720.0514597487788 Z" fill="#fff" stroke-width="1.6" />
<ellipse cx="306" cy="722" rx="1.4850000000000003" ry="2.7" transform="rotate(-43.80651057601796 306 722)" fill="#fff" stroke-width="1.5" />
<path d="M328.1331789994615,706.8670878058863 L333.5457908084092,701.675398927916 L327.4542091915908,695.324601072084 L322.0415973826431,700.5162899500542 Z" fill="#fff" stroke-width="1.6" />
<ellipse cx="325.0873881910523" cy="703.6916888779703" rx="2.2" ry="4.4" transform="rotate(-43.80651057601796 325.0873881910523 703.6916888779703)" fill="#fff" stroke-width="1.5" />
<ellipse cx="330.5" cy="698.5" rx="2.2" ry="4.4" transform="rotate(-43.80651057601796 330.5 698.5)" fill="#fff" stroke-width="1.6" />
<path d="M636.4152565905546,167.41260951192606 L645.4045212966071,170.16090353631978 L646.5740081154979,166.33568451246765 L637.5847434094454,163.58739048807394 Z" fill="#fff" stroke-width="1.5" />
<ellipse cx="645.9892647060525" cy="168.24829402439372" rx="1.1" ry="2.0" transform="rotate(17 645.9892647060525 168.24829402439372)" fill="#fff" stroke-width="1.4" />
<ellipse cx="638.4344571339445" cy="165.9385575570841" rx="3.5200000000000005" ry="5.0" transform="rotate(17 638.4344571339445 165.9385575570841)" fill="#fff" stroke-width="1.5" />
<ellipse cx="637" cy="165.5" rx="3.5200000000000005" ry="4.4" transform="rotate(17 637 165.5)" fill="#222" stroke-width="2.2" />
<ellipse cx="636.7131085732111" cy="165.4122884885832" rx="1.4960000000000002" ry="2.0240000000000005" transform="rotate(17 636.7131085732111 165.4122884885832)" fill="none" stroke-width="0.9" stroke="#ddd"/>
<ellipse cx="659" cy="176" rx="3.2" ry="4.2" transform="rotate(30 659 176)" fill="#000" stroke-width="1" />
<ellipse cx="671" cy="182" rx="3.2" ry="4.2" transform="rotate(30 671 182)" fill="#000" stroke-width="1" />
<path d="M686,204.2 L690.6,206.4 L685.8,216.6 L681.2,214.4 Z" fill="#fff" stroke-width="1.4" />
<line x1="683.6" y1="209.5" x2="688.2" y2="211.6" stroke-width="1.2" />
<path d="M690.6,196.5 L694.2,198.3 L690.6,206.4 L686.6,204.4 Z" fill="#fff" stroke-width="1.3" />
<circle cx="694.5" cy="192.5" r="3.5999999999999996" fill="#888" stroke-width="3.0"/>
<line x1="661" y1="252.5" x2="667" y2="256" stroke-width="1.4" />
<line x1="621" y1="298.5" x2="624.5" y2="304.5" stroke-width="1.4" />
<path d="M762.6,146.4 L766.7,141.5 L771,143.8 L767.5,148.5 Z" fill="#111" stroke-width="2.0" />
<path d="M760.4,160.3 L763.2,150.5 L766.7,146.8 L778.5,142.2 L782.6,145.6 L784.3,152.6 L780.8,159.7 L767.9,170.3 L763.2,168.5 Z" fill="#fff" stroke-width="2.3" />
<line x1="768.5" y1="151" x2="772.6" y2="164.4" stroke-width="1.6" />
<path d="M763.2,168.5 L760.4,160.3 L763.2,150.5 L766.7,146.8" fill="none" stroke-width="3.2" />
<path d="M796.7,162.2 L801.4,157.3 L804.5,160.3 L800.5,164.5 Z" fill="#111" stroke-width="2.0" />
<path d="M791.6,175 L796.1,166.7 L799.6,162.6 L811.4,158.6 L814.9,163.2 L816.1,169.1 L812.5,175 L801.4,186.7 L797.3,184.4 Z" fill="#fff" stroke-width="2.3" />
<line x1="801" y1="166.5" x2="805.2" y2="181" stroke-width="1.6" />
<path d="M797.3,184.4 L791.6,175 L796.1,166.7 L799.6,162.6" fill="none" stroke-width="3.2" />
<path d="M723.2,197.3 L725.6,190.2 L732.6,188.5 L742,177.3 L740.3,170.8 L747.9,168.5 L764.4,175 L773.8,183.2 L776.1,191.4 L775.5,205.5 L771.4,216.1 L762,221.4 L750.3,221.4 L739.7,216.1 L736.2,215 L735,220.8 L729.1,222.5 L725.6,217.3 L724.4,205.5 Z" fill="#fff" stroke-width="2.3" />
<path d="M741.5,172.5 L746.5,169.5 L772.5,186 L771,191 L766,190.5 Z" fill="#fff" stroke-width="1.8" />
<line x1="748.0" y1="177.39999999999998" x2="750.6" y2="172.6" stroke-width="1.9" />
<line x1="751.6" y1="179.79999999999998" x2="754.2" y2="175.0" stroke-width="1.9" />
<line x1="755.2" y1="182.2" x2="757.8000000000001" y2="177.4" stroke-width="1.9" />
<line x1="758.8" y1="184.59999999999997" x2="761.4" y2="179.79999999999998" stroke-width="1.9" />
<line x1="762.4" y1="186.99999999999997" x2="765.0" y2="182.2" stroke-width="1.9" />
<line x1="766.0" y1="189.39999999999998" x2="768.6" y2="184.6" stroke-width="1.9" />
<ellipse cx="741.6" cy="171.6" rx="2.2" ry="1.8" transform="rotate(30 741.6 171.6)" fill="#000" stroke-width="1" />
<line x1="733.5" y1="187" x2="758" y2="204" stroke-width="2.6" />
<line x1="739" y1="181" x2="768" y2="199" stroke-width="1.6" />
<path d="M732.6,188.5 C736,193 737,199 735,205" fill="none" stroke-width="1.6" />
<line x1="735.5" y1="200.0" x2="738.3" y2="195.0" stroke-width="1.7" />
<line x1="738.5" y1="202.0" x2="741.3" y2="197.0" stroke-width="1.7" />
<line x1="741.5" y1="204.0" x2="744.3" y2="199.0" stroke-width="1.7" />
<line x1="744.5" y1="206.0" x2="747.3" y2="201.0" stroke-width="1.7" />
<ellipse cx="743.2" cy="190.2" rx="3.2" ry="3.6799999999999997" transform="rotate(-30 743.2 190.2)" fill="#fff" stroke-width="1.3" />
<ellipse cx="743.2" cy="190.2" rx="1.984" ry="2.5600000000000005" transform="rotate(-30 743.2 190.2)" fill="#111" stroke-width="1.0" />
<ellipse cx="755.5" cy="196.3" rx="4.2" ry="4.83" transform="rotate(-30 755.5 196.3)" fill="#fff" stroke-width="1.3" />
<ellipse cx="755.5" cy="196.3" rx="2.604" ry="3.3600000000000003" transform="rotate(-30 755.5 196.3)" fill="#111" stroke-width="1.0" />
<ellipse cx="745.2" cy="209" rx="4.2" ry="4.83" transform="rotate(-30 745.2 209)" fill="#fff" stroke-width="1.3" />
<ellipse cx="745.2" cy="209" rx="2.604" ry="3.3600000000000003" transform="rotate(-30 745.2 209)" fill="#111" stroke-width="1.0" />
<path d="M749,201 C753,202 757,205 758,210" fill="none" stroke-width="1.5" />
<path d="M739,214 C744,218 750,219 756,218" fill="none" stroke-width="1.4" />
<ellipse cx="766.1" cy="210.2" rx="8.2" ry="10.6" transform="rotate(15 766.1 210.2)" fill="#fff" stroke-width="1.8" />
<ellipse cx="732" cy="217.3" rx="2.6" ry="3.0" transform="rotate(0 732 217.3)" fill="#fff" stroke-width="1.7" />
<ellipse cx="732" cy="217.3" rx="0.9" ry="1.2" transform="rotate(0 732 217.3)" fill="#000" stroke-width="1.0" />
<path d="M727.5,204 L728.5,214" fill="none" stroke-width="1.4" />
<path d="M645.5,403.5 L592.5,416.5 L597,431.5 Z" fill="#111" stroke-width="1.3" />
<line x1="640" y1="405.4" x2="597" y2="419.5" stroke-width="0.8" stroke="#fff"/>
<line x1="640" y1="406.2" x2="599" y2="425.5" stroke-width="0.8" stroke="#fff"/>
<ellipse cx="588" cy="419.5" rx="3.3" ry="3.0" transform="rotate(0 588 419.5)" fill="#000" stroke-width="1" />
<ellipse cx="585.5" cy="424.5" rx="3.3" ry="3.0" transform="rotate(0 585.5 424.5)" fill="#000" stroke-width="1" />
<ellipse cx="586" cy="430" rx="3.3" ry="3.0" transform="rotate(0 586 430)" fill="#000" stroke-width="1" />
<ellipse cx="590" cy="434.5" rx="3.3" ry="3.0" transform="rotate(0 590 434.5)" fill="#000" stroke-width="1" />
<path d="M588,417.5 L594,416 L598.5,431 L592,436 Z" fill="#111" stroke-width="1.0" />
<line x1="588.5" y1="422" x2="594" y2="420.5" stroke-width="0.8" stroke="#fff"/>
<line x1="589" y1="427.5" x2="595" y2="426" stroke-width="0.8" stroke="#fff"/>
<line x1="590.5" y1="432.5" x2="596" y2="430.5" stroke-width="0.8" stroke="#fff"/>
<ellipse cx="586.5" cy="466.5" rx="9.8" ry="13.2" transform="rotate(-20 586.5 466.5)" fill="#fff" stroke-width="2.0" />
<ellipse cx="589.5" cy="467.5" rx="8.0" ry="11.6" transform="rotate(-20 589.5 467.5)" fill="#fff" stroke-width="1.5" />
<path d="M592,453 L600,449 L611,451 L611,497 L600,494 L586,489 L587.5,474.5 L595,470 Z" fill="#fff" stroke-width="1.8" />
<path d="M595,455 L601,451 L607,468 L606,493 L600,491 L599,470 Z" fill="#111" stroke-width="1.2" />
<path d="M596,452 L605,446 L612,450.5 L620,446 L634,452 L618,462 L606,468 Z" fill="#111" stroke-width="1.8" />
<line x1="600" y1="452" x2="606" y2="448" stroke-width="1.1" stroke="#fff"/>
<line x1="614" y1="453" x2="622" y2="449" stroke-width="1.1" stroke="#fff"/>
<line x1="608" y1="458" x2="616" y2="455" stroke-width="1.1" stroke="#fff"/>
<line x1="603" y1="462" x2="609" y2="458.5" stroke-width="1.1" stroke="#fff"/>
<line x1="621" y1="456" x2="628" y2="452.5" stroke-width="1.0" stroke="#fff"/>
<line x1="590.5" y1="476" x2="590" y2="490.5" stroke-width="1.2" />
<line x1="594" y1="477.5" x2="593.5" y2="492" stroke-width="1.2" />
<line x1="587.5" y1="474.5" x2="597" y2="478.5" stroke-width="1.4" />
<ellipse cx="590.5" cy="482" rx="1.6" ry="2.0" transform="rotate(0 590.5 482)" fill="#000" stroke-width="1" />
<ellipse cx="595" cy="463" rx="1.6" ry="2.0" transform="rotate(0 595 463)" fill="#000" stroke-width="1" />
<path d="M604.5,474 L635,453.5 L641.5,476 L610.5,499.5 Z" fill="#fff" stroke-width="2.3" />
<path d="M608.5,476.5 L632.5,460.5 L637,475.5 L612.5,494 Z" fill="none" stroke-width="1.5" />
<ellipse cx="624" cy="477" rx="1.4" ry="1.4" transform="rotate(0 624 477)" fill="#000" stroke-width="1" />
<circle cx="600.7" cy="392.5" r="4.0" fill="#fff" stroke-width="2.1"/>
<circle cx="591.6" cy="392.5" r="4.0" fill="#fff" stroke-width="2.1"/>
<circle cx="585" cy="388.5" r="3.4" fill="#fff" stroke-width="2.1"/>
<path d="M596.9,393.5 A3.9,3.9 0 0 0 604.5,393.5" fill="none" stroke-width="1.4" />
<path d="M587.8,393.5 A3.9,3.9 0 0 0 595.4,393.5" fill="none" stroke-width="1.4" />
<path d="M570.3,387.3 L580.7,384.7 L582,391.6 L571.2,393.3 Z" fill="#fff" stroke-width="1.8" />
<circle cx="574.7" cy="404.5" r="3.3" fill="#fff" stroke-width="2.0"/>
<circle cx="586" cy="403.2" r="3.3" fill="#fff" stroke-width="2.0"/>
<circle cx="580" cy="407" r="3.3" fill="#fff" stroke-width="2.0"/>
<path d="M578.5,394 L586,392.5 L588.5,400 L581,403 L577,399 Z" fill="#111" stroke-width="1.5" />
<line x1="580" y1="397" x2="584" y2="395.5" stroke-width="0.9" stroke="#fff"/>
<line x1="582" y1="400.5" x2="586" y2="398.5" stroke-width="0.9" stroke="#fff"/>
<path d="M587.7,372.1 L593.7,369.9 L599.8,382 L592.9,383.6 Z" fill="#fff" stroke-width="1.7" />
<line x1="586.2" y1="368.8" x2="592.2" y2="366.6" stroke-width="1.5" />
<line x1="596.2" y1="383" x2="599.5" y2="388.8" stroke-width="3.4" />
<line x1="596.4" y1="383.4" x2="599.3" y2="388.4" stroke-width="1.0" stroke="#fff"/>
<path d="M247.6,552.5 L253.8,551.7 L256.2,564 L250,565 Z" fill="#fff" stroke-width="1.4" />
<ellipse cx="258.8" cy="571.2" rx="3.8" ry="3.0" transform="rotate(35 258.8 571.2)" fill="#fff" stroke-width="2.0" />
<line x1="253" y1="565" x2="256" y2="568.5" stroke-width="2.2" />
<line x1="198.5" y1="538.5" x2="203" y2="541" stroke-width="1.8" />
<line x1="194" y1="543.5" x2="198.5" y2="546" stroke-width="1.8" />
<path d="M221.5,543 L226,545.5 L218,558 L212.5,555.5 Z" fill="#fff" stroke-width="1.6" />
<path d="M219,541.5 L224.5,540 L227.5,545 L222,548.5 Z" fill="#111" stroke-width="1.5" />
<line x1="214.5" y1="552" x2="219.5" y2="554.5" stroke-width="1.3" />
<path d="M134.0,661.0 C134.8,659.9 137.2,656.2 139.0,654.5 C140.8,652.8 143.2,650.4 145.0,650.5 C146.8,650.6 147.9,652.4 149.5,655.0 C151.1,657.6 152.8,662.2 154.5,666.0 C156.2,669.8 159.2,674.2 159.5,677.5 C159.8,680.8 157.8,683.8 156.0,686.0 C154.2,688.2 150.8,690.2 149.0,691.0 C147.2,691.8 146.2,691.9 145.0,690.5 C143.8,689.1 142.8,685.8 141.5,682.5 C140.2,679.2 138.2,674.6 137.0,671.0 C135.8,667.4 134.5,662.7 134.0,661.0" fill="#fff" stroke-width="2.7" />
<line x1="140.5" y1="661.5" x2="148.0" y2="656.0" stroke-width="1.9" />
<line x1="144.1" y1="669.0" x2="151.6" y2="663.5" stroke-width="1.9" />
<line x1="147.7" y1="676.5" x2="155.2" y2="671.0" stroke-width="1.9" />
<line x1="138.5" y1="661.5" x2="146.5" y2="688" stroke-width="1.3" />
<ellipse cx="154" cy="660.5" rx="2.4" ry="2.4" transform="rotate(0 154 660.5)" fill="#000" stroke-width="1" />
<ellipse cx="159.5" cy="677" rx="2.0" ry="2.8" transform="rotate(0 159.5 677)" fill="#000" stroke-width="1" />
<path d="M134,661 L141.5,682.5 L145,690.5" fill="none" stroke-width="3.4" />
<path d="M166,676 L174.5,668 L178,668.5 L181,664 L183,670 L187,671.5 L186,676 L190.5,678 L188,684 L191.5,686.5 L189.5,692 L192,696 L180.5,707.5 L174.5,704 L171.5,690 Z" fill="#fff" stroke-width="2.2" />
<circle cx="181.5" cy="665.5" r="1.6" fill="#111" stroke-width="1.6"/>
<circle cx="188" cy="677" r="1.6" fill="#111" stroke-width="1.6"/>
<path d="M184,624.4 L194.7,608 L208.8,607.4 L221.8,613.8 L225.3,618.5 L230,631.5 L233.5,639.7 L238.2,642 L237.6,648 L244,662 L244,672.6 L228.8,682 L219.4,673.8 L211.2,668 L199.4,664.4 L193.5,653.8 L187.6,639.7 L186.5,630.3 Z" fill="#fff" stroke-width="2.5" />
<path d="M185.3,624.6 L195.3,615 L200.6,616.2 L198.2,626.8 L190,630.3 Z" fill="none" stroke-width="1.8" />
<path d="M190.5,620.5 L193,624.5 L197,622.5 L198.6,616.5" fill="none" stroke-width="2.3" />
<line x1="194.7" y1="608.5" x2="196.5" y2="614.5" stroke-width="1.8" />
<path d="M205.3,616.2 L210,609 L221.8,613.8 L217,622 Z" fill="none" stroke-width="1.9" />
<line x1="200.6" y1="616.2" x2="205.3" y2="616.2" stroke-width="1.8" />
<path d="M203,618 L207.5,618.5 L208.5,629 L204,630 Z" fill="#222" stroke-width="1.6" />
<line x1="205.3" y1="619.5" x2="206.2" y2="628" stroke-width="0.9" stroke="#fff"/>
<path d="M198.2,626.8 L196.5,640 L200,652 L206,661 L214,665 L222,670 L229,678" fill="none" stroke-width="2.0" />
<path d="M217,622 L221.8,636.2 L240.6,670.3" fill="none" stroke-width="2.0" />
<path d="M225.3,618.5 L224,628 L229,640" fill="none" stroke-width="1.7" />
<path d="M208.5,629 L214,634 L219,633 L221.8,636.2" fill="none" stroke-width="1.8" />
<path d="M225.3,644.4 L228.8,642 L238.2,662 L234.7,665.6 Z" fill="#111" stroke-width="1.4" />
<path d="M222.5,650 L231,668 L238,672" fill="none" stroke-width="1.6" />
<ellipse cx="201.2" cy="640.3" rx="3.2" ry="3.8" transform="rotate(-25 201.2 640.3)" fill="#fff" stroke-width="2.0" />
<line x1="199.5" y1="642" x2="203" y2="638.5" stroke-width="1.3" />
<path d="M204,634 C208,633 212,636 213,640 C210,643 206,644 204,642" fill="none" stroke-width="1.9" />
<path d="M205.5,650 C208,648 212,650 213,654 C212,658 208,660 206,657 Z" fill="#fff" stroke-width="1.9" />
<ellipse cx="208" cy="654.5" rx="1.6" ry="2.2" transform="rotate(-20 208 654.5)" fill="#000" stroke-width="1" />
<path d="M213,644 C217,645 220,650 220,656 L216,662" fill="none" stroke-width="1.8" />
<path d="M190,634 L193,645 L197,654" fill="none" stroke-width="1.5" />
<line x1="238.2" y1="642" x2="241" y2="648" stroke-width="2.0" />
<line x1="241" y1="648" x2="239" y2="652" stroke-width="2.0" />
<path d="M223,672 L229,676 L236,671" fill="none" stroke-width="1.5" />
<path d="M199,631 L203,634 M209,645 L213,648 M216,662 L221,665 M200,646 L203,651" fill="none" stroke-width="1.8" />
<path d="M219,625 L223,636 M227,631 L231,640" fill="none" stroke-width="1.6" />
<ellipse cx="197" cy="621" rx="1.6" ry="2.2" transform="rotate(20 197 621)" fill="#000" stroke-width="1" />
<ellipse cx="1065.3" cy="499.2" rx="130" ry="81" transform="rotate(-53.1 1065.3 499.2)" fill="#fff" stroke-width="1.7" />
<g transform="translate(1067,500.5) rotate(-53.1) scale(1.3,0.81)">
<circle cx="0.00" cy="0.00" r="100" fill="#fff" stroke-width="2.0" vector-effect="non-scaling-stroke"/>
<path d="M80.90,-9.20 L93.89,5.82 A1.3,1.3 0 0 0 95.85,4.12 L82.87,-10.90 A1.3,1.3 0 0 0 80.90,-9.20 Z" fill="#fff" stroke-width="1.5" vector-effect="non-scaling-stroke"/>
<path d="M79.17,19.02 L86.23,37.58 A1.3,1.3 0 0 0 88.66,36.66 L81.60,18.10 A1.3,1.3 0 0 0 79.17,19.02 Z" fill="#fff" stroke-width="1.5" vector-effect="non-scaling-stroke"/>
<path d="M67.89,44.95 L68.18,64.81 A1.3,1.3 0 0 0 70.78,64.77 L70.49,44.91 A1.3,1.3 0 0 0 67.89,44.95 Z" fill="#fff" stroke-width="1.5" vector-effect="non-scaling-stroke"/>
<path d="M48.42,65.46 L41.90,84.22 A1.3,1.3 0 0 0 44.36,85.07 L50.88,66.31 A1.3,1.3 0 0 0 48.42,65.46 Z" fill="#fff" stroke-width="1.5" vector-effect="non-scaling-stroke"/>
<path d="M23.11,78.07 L10.57,93.47 A1.3,1.3 0 0 0 12.59,95.11 L25.13,79.72 A1.3,1.3 0 0 0 23.11,78.07 Z" fill="#fff" stroke-width="1.5" vector-effect="non-scaling-stroke"/>
<path d="M-4.98,81.27 L-22.04,91.45 A1.3,1.3 0 0 0 -20.70,93.68 L-3.65,83.50 A1.3,1.3 0 0 0 -4.98,81.27 Z" fill="#fff" stroke-width="1.5" vector-effect="non-scaling-stroke"/>
<path d="M-32.48,74.66 L-51.99,78.40 A1.3,1.3 0 0 0 -51.50,80.95 L-31.99,77.22 A1.3,1.3 0 0 0 -32.48,74.66 Z" fill="#fff" stroke-width="1.5" vector-effect="non-scaling-stroke"/>
<path d="M-56.06,59.05 L-75.66,55.89 A1.3,1.3 0 0 0 -76.08,58.46 L-56.47,61.62 A1.3,1.3 0 0 0 -56.06,59.05 Z" fill="#fff" stroke-width="1.5" vector-effect="non-scaling-stroke"/>
<path d="M-72.87,36.32 L-90.22,26.64 A1.3,1.3 0 0 0 -91.48,28.91 L-74.14,38.59 A1.3,1.3 0 0 0 -72.87,36.32 Z" fill="#fff" stroke-width="1.5" vector-effect="non-scaling-stroke"/>
<path d="M-80.90,9.20 L-93.89,-5.82 A1.3,1.3 0 0 0 -95.85,-4.12 L-82.87,10.90 A1.3,1.3 0 0 0 -80.90,9.20 Z" fill="#fff" stroke-width="1.5" vector-effect="non-scaling-stroke"/>
<path d="M-79.17,-19.02 L-86.23,-37.58 A1.3,1.3 0 0 0 -88.66,-36.66 L-81.60,-18.10 A1.3,1.3 0 0 0 -79.17,-19.02 Z" fill="#fff" stroke-width="1.5" vector-effect="non-scaling-stroke"/>
<path d="M-67.89,-44.95 L-68.18,-64.81 A1.3,1.3 0 0 0 -70.78,-64.77 L-70.49,-44.91 A1.3,1.3 0 0 0 -67.89,-44.95 Z" fill="#fff" stroke-width="1.5" vector-effect="non-scaling-stroke"/>
<path d="M-48.42,-65.46 L-41.90,-84.22 A1.3,1.3 0 0 0 -44.36,-85.07 L-50.88,-66.31 A1.3,1.3 0 0 0 -48.42,-65.46 Z" fill="#fff" stroke-width="1.5" vector-effect="non-scaling-stroke"/>
<path d="M-23.11,-78.07 L-10.57,-93.47 A1.3,1.3 0 0 0 -12.59,-95.11 L-25.13,-79.72 A1.3,1.3 0 0 0 -23.11,-78.07 Z" fill="#fff" stroke-width="1.5" vector-effect="non-scaling-stroke"/>
<path d="M4.98,-81.27 L22.04,-91.45 A1.3,1.3 0 0 0 20.70,-93.68 L3.65,-83.50 A1.3,1.3 0 0 0 4.98,-81.27 Z" fill="#fff" stroke-width="1.5" vector-effect="non-scaling-stroke"/>
<path d="M32.48,-74.66 L51.99,-78.40 A1.3,1.3 0 0 0 51.50,-80.95 L31.99,-77.22 A1.3,1.3 0 0 0 32.48,-74.66 Z" fill="#fff" stroke-width="1.5" vector-effect="non-scaling-stroke"/>
<path d="M56.06,-59.05 L75.66,-55.89 A1.3,1.3 0 0 0 76.08,-58.46 L56.47,-61.62 A1.3,1.3 0 0 0 56.06,-59.05 Z" fill="#fff" stroke-width="1.5" vector-effect="non-scaling-stroke"/>
<path d="M72.87,-36.32 L90.22,-26.64 A1.3,1.3 0 0 0 91.48,-28.91 L74.14,-38.59 A1.3,1.3 0 0 0 72.87,-36.32 Z" fill="#fff" stroke-width="1.5" vector-effect="non-scaling-stroke"/>
<path d="M72.74,6.11 A73,73 0 0 1 62.44,37.82 L44.22,14.37 Z" fill="#fff" stroke-width="2.2" stroke-linejoin="round" vector-effect="non-scaling-stroke"/>
<path d="M68.72,10.39 A69.5,69.5 0 0 1 61.70,31.98 L49.93,16.22 Z" fill="#fff" stroke-width="1.0" stroke-linejoin="round" vector-effect="non-scaling-stroke"/>
<path d="M51.84,-4.08 L51.84,4.08 L42.87,3.37 L42.87,-3.37 Z" fill="none" stroke-width="1.7" vector-effect="non-scaling-stroke"/>
<path d="M49.99,0.87 L44.94,2.36" fill="none" stroke-width="1.0" vector-effect="non-scaling-stroke"/>
<circle cx="61.50" cy="0.00" r="6.2" fill="#fff" stroke-width="3.4" vector-effect="non-scaling-stroke"/>
<circle cx="61.50" cy="0.00" r="2.6" fill="none" stroke-width="2.0" vector-effect="non-scaling-stroke"/>
<circle cx="61.50" cy="0.00" r="0.8" fill="#000" stroke-width="1.0" vector-effect="non-scaling-stroke"/>
<path d="M55.26,47.70 A73,73 0 0 1 28.29,67.30 L27.33,37.62 Z" fill="#fff" stroke-width="2.2" stroke-linejoin="round" vector-effect="non-scaling-stroke"/>
<path d="M49.49,48.80 A69.5,69.5 0 0 1 31.12,62.14 L30.86,42.47 Z" fill="#fff" stroke-width="1.0" stroke-linejoin="round" vector-effect="non-scaling-stroke"/>
<path d="M44.34,27.17 L39.54,33.77 L32.70,27.93 L36.66,22.47 Z" fill="none" stroke-width="1.7" vector-effect="non-scaling-stroke"/>
<path d="M39.93,30.09 L34.97,28.32" fill="none" stroke-width="1.0" vector-effect="non-scaling-stroke"/>
<circle cx="49.75" cy="36.15" r="6.2" fill="#fff" stroke-width="3.4" vector-effect="non-scaling-stroke"/>
<circle cx="49.75" cy="36.15" r="2.6" fill="none" stroke-width="2.0" vector-effect="non-scaling-stroke"/>
<circle cx="49.75" cy="36.15" r="0.8" fill="#000" stroke-width="1.0" vector-effect="non-scaling-stroke"/>
<path d="M16.67,71.07 A73,73 0 0 1 -16.67,71.07 L0.00,46.50 Z" fill="#fff" stroke-width="2.2" stroke-linejoin="round" vector-effect="non-scaling-stroke"/>
<path d="M11.35,68.57 A69.5,69.5 0 0 1 -11.35,68.57 L0.00,52.50 Z" fill="#fff" stroke-width="1.0" stroke-linejoin="round" vector-effect="non-scaling-stroke"/>
<path d="M19.90,48.04 L12.14,50.56 L10.04,41.81 L16.46,39.73 Z" fill="none" stroke-width="1.7" vector-effect="non-scaling-stroke"/>
<path d="M14.62,47.82 L11.65,43.47" fill="none" stroke-width="1.0" vector-effect="non-scaling-stroke"/>
<circle cx="19.00" cy="58.49" r="6.2" fill="#fff" stroke-width="3.4" vector-effect="non-scaling-stroke"/>
<circle cx="19.00" cy="58.49" r="2.6" fill="none" stroke-width="2.0" vector-effect="non-scaling-stroke"/>
<circle cx="19.00" cy="58.49" r="0.8" fill="#000" stroke-width="1.0" vector-effect="non-scaling-stroke"/>
<path d="M-28.29,67.30 A73,73 0 0 1 -55.26,47.70 L-27.33,37.62 Z" fill="#fff" stroke-width="2.2" stroke-linejoin="round" vector-effect="non-scaling-stroke"/>
<path d="M-31.12,62.14 A69.5,69.5 0 0 1 -49.49,48.80 L-30.86,42.47 Z" fill="#fff" stroke-width="1.0" stroke-linejoin="round" vector-effect="non-scaling-stroke"/>
<path d="M-12.14,50.56 L-19.90,48.04 L-16.46,39.73 L-10.04,41.81 Z" fill="none" stroke-width="1.7" vector-effect="non-scaling-stroke"/>
<path d="M-16.28,47.28 L-16.13,42.01" fill="none" stroke-width="1.0" vector-effect="non-scaling-stroke"/>
<circle cx="-19.00" cy="58.49" r="6.2" fill="#fff" stroke-width="3.4" vector-effect="non-scaling-stroke"/>
<circle cx="-19.00" cy="58.49" r="2.6" fill="none" stroke-width="2.0" vector-effect="non-scaling-stroke"/>
<circle cx="-19.00" cy="58.49" r="0.8" fill="#000" stroke-width="1.0" vector-effect="non-scaling-stroke"/>
<path d="M-62.44,37.82 A73,73 0 0 1 -72.74,6.11 L-44.22,14.37 Z" fill="#fff" stroke-width="2.2" stroke-linejoin="round" vector-effect="non-scaling-stroke"/>
<path d="M-61.70,31.98 A69.5,69.5 0 0 1 -68.72,10.39 L-49.93,16.22 Z" fill="#fff" stroke-width="1.0" stroke-linejoin="round" vector-effect="non-scaling-stroke"/>
<path d="M-39.54,33.77 L-44.34,27.17 L-36.66,22.47 L-32.70,27.93 Z" fill="none" stroke-width="1.7" vector-effect="non-scaling-stroke"/>
<path d="M-40.96,28.68 L-37.74,24.51" fill="none" stroke-width="1.0" vector-effect="non-scaling-stroke"/>
<circle cx="-49.75" cy="36.15" r="6.2" fill="#fff" stroke-width="3.4" vector-effect="non-scaling-stroke"/>
<circle cx="-49.75" cy="36.15" r="2.6" fill="none" stroke-width="2.0" vector-effect="non-scaling-stroke"/>
<circle cx="-49.75" cy="36.15" r="0.8" fill="#000" stroke-width="1.0" vector-effect="non-scaling-stroke"/>
<path d="M-72.74,-6.11 A73,73 0 0 1 -62.44,-37.82 L-44.22,-14.37 Z" fill="#fff" stroke-width="2.2" stroke-linejoin="round" vector-effect="non-scaling-stroke"/>
<path d="M-68.72,-10.39 A69.5,69.5 0 0 1 -61.70,-31.98 L-49.93,-16.22 Z" fill="#fff" stroke-width="1.0" stroke-linejoin="round" vector-effect="non-scaling-stroke"/>
<path d="M-51.84,4.08 L-51.84,-4.08 L-42.87,-3.37 L-42.87,3.37 Z" fill="none" stroke-width="1.7" vector-effect="non-scaling-stroke"/>
<path d="M-49.99,-0.87 L-44.94,-2.36" fill="none" stroke-width="1.0" vector-effect="non-scaling-stroke"/>
<circle cx="-61.50" cy="0.00" r="6.2" fill="#fff" stroke-width="3.4" vector-effect="non-scaling-stroke"/>
<circle cx="-61.50" cy="0.00" r="2.6" fill="none" stroke-width="2.0" vector-effect="non-scaling-stroke"/>
<circle cx="-61.50" cy="0.00" r="0.8" fill="#000" stroke-width="1.0" vector-effect="non-scaling-stroke"/>
<path d="M-55.26,-47.70 A73,73 0 0 1 -28.29,-67.30 L-27.33,-37.62 Z" fill="#fff" stroke-width="2.2" stroke-linejoin="round" vector-effect="non-scaling-stroke"/>
<path d="M-49.49,-48.80 A69.5,69.5 0 0 1 -31.12,-62.14 L-30.86,-42.47 Z" fill="#fff" stroke-width="1.0" stroke-linejoin="round" vector-effect="non-scaling-stroke"/>
<path d="M-44.34,-27.17 L-39.54,-33.77 L-32.70,-27.93 L-36.66,-22.47 Z" fill="none" stroke-width="1.7" vector-effect="non-scaling-stroke"/>
<path d="M-39.93,-30.09 L-34.97,-28.32" fill="none" stroke-width="1.0" vector-effect="non-scaling-stroke"/>
<circle cx="-49.75" cy="-36.15" r="6.2" fill="#fff" stroke-width="3.4" vector-effect="non-scaling-stroke"/>
<circle cx="-49.75" cy="-36.15" r="2.6" fill="none" stroke-width="2.0" vector-effect="non-scaling-stroke"/>
<circle cx="-49.75" cy="-36.15" r="0.8" fill="#000" stroke-width="1.0" vector-effect="non-scaling-stroke"/>
<path d="M-16.67,-71.07 A73,73 0 0 1 16.67,-71.07 L-0.00,-46.50 Z" fill="#fff" stroke-width="2.2" stroke-linejoin="round" vector-effect="non-scaling-stroke"/>
<path d="M-11.35,-68.57 A69.5,69.5 0 0 1 11.35,-68.57 L-0.00,-52.50 Z" fill="#fff" stroke-width="1.0" stroke-linejoin="round" vector-effect="non-scaling-stroke"/>
<path d="M-19.90,-48.04 L-12.14,-50.56 L-10.04,-41.81 L-16.46,-39.73 Z" fill="none" stroke-width="1.7" vector-effect="non-scaling-stroke"/>
<path d="M-14.62,-47.82 L-11.65,-43.47" fill="none" stroke-width="1.0" vector-effect="non-scaling-stroke"/>
<circle cx="-19.00" cy="-58.49" r="6.2" fill="#fff" stroke-width="3.4" vector-effect="non-scaling-stroke"/>
<circle cx="-19.00" cy="-58.49" r="2.6" fill="none" stroke-width="2.0" vector-effect="non-scaling-stroke"/>
<circle cx="-19.00" cy="-58.49" r="0.8" fill="#000" stroke-width="1.0" vector-effect="non-scaling-stroke"/>
<path d="M28.29,-67.30 A73,73 0 0 1 55.26,-47.70 L27.33,-37.62 Z" fill="#fff" stroke-width="2.2" stroke-linejoin="round" vector-effect="non-scaling-stroke"/>
<path d="M31.12,-62.14 A69.5,69.5 0 0 1 49.49,-48.80 L30.86,-42.47 Z" fill="#fff" stroke-width="1.0" stroke-linejoin="round" vector-effect="non-scaling-stroke"/>
<path d="M12.14,-50.56 L19.90,-48.04 L16.46,-39.73 L10.04,-41.81 Z" fill="none" stroke-width="1.7" vector-effect="non-scaling-stroke"/>
<path d="M16.28,-47.28 L16.13,-42.01" fill="none" stroke-width="1.0" vector-effect="non-scaling-stroke"/>
<circle cx="19.00" cy="-58.49" r="6.2" fill="#fff" stroke-width="3.4" vector-effect="non-scaling-stroke"/>
<circle cx="19.00" cy="-58.49" r="2.6" fill="none" stroke-width="2.0" vector-effect="non-scaling-stroke"/>
<circle cx="19.00" cy="-58.49" r="0.8" fill="#000" stroke-width="1.0" vector-effect="non-scaling-stroke"/>
<path d="M62.44,-37.82 A73,73 0 0 1 72.74,-6.11 L44.22,-14.37 Z" fill="#fff" stroke-width="2.2" stroke-linejoin="round" vector-effect="non-scaling-stroke"/>
<path d="M61.70,-31.98 A69.5,69.5 0 0 1 68.72,-10.39 L49.93,-16.22 Z" fill="#fff" stroke-width="1.0" stroke-linejoin="round" vector-effect="non-scaling-stroke"/>
<path d="M39.54,-33.77 L44.34,-27.17 L36.66,-22.47 L32.70,-27.93 Z" fill="none" stroke-width="1.7" vector-effect="non-scaling-stroke"/>
<path d="M40.96,-28.68 L37.74,-24.51" fill="none" stroke-width="1.0" vector-effect="non-scaling-stroke"/>
<circle cx="49.75" cy="-36.15" r="6.2" fill="#fff" stroke-width="3.4" vector-effect="non-scaling-stroke"/>
<circle cx="49.75" cy="-36.15" r="2.6" fill="none" stroke-width="2.0" vector-effect="non-scaling-stroke"/>
<circle cx="49.75" cy="-36.15" r="0.8" fill="#000" stroke-width="1.0" vector-effect="non-scaling-stroke"/>
<path d="M40.50,-6.41 L40.50,6.41 L35.19,11.43 L36.53,18.61 L28.99,28.99 L21.75,29.93 L18.61,36.53 L6.41,40.50 L0.00,37.00 L-6.41,40.50 L-18.61,36.53 L-21.75,29.93 L-28.99,28.99 L-36.53,18.61 L-35.19,11.43 L-40.50,6.41 L-40.50,-6.41 L-35.19,-11.43 L-36.53,-18.61 L-28.99,-28.99 L-21.75,-29.93 L-18.61,-36.53 L-6.41,-40.50 L-0.00,-37.00 L6.41,-40.50 L18.61,-36.53 L21.75,-29.93 L28.99,-28.99 L36.53,-18.61 L35.19,-11.43 Z" fill="none" stroke-width="2.4" vector-effect="non-scaling-stroke"/>
<circle cx="37.09" cy="12.05" r="3.2" fill="#000" stroke-width="1.8" vector-effect="non-scaling-stroke"/>
<circle cx="22.92" cy="31.55" r="2.3" fill="#000" stroke-width="1.5" vector-effect="non-scaling-stroke"/>
<circle cx="0.00" cy="39.00" r="3.2" fill="#000" stroke-width="1.8" vector-effect="non-scaling-stroke"/>
<circle cx="-22.92" cy="31.55" r="2.3" fill="#000" stroke-width="1.5" vector-effect="non-scaling-stroke"/>
<circle cx="-37.09" cy="12.05" r="3.2" fill="#000" stroke-width="1.8" vector-effect="non-scaling-stroke"/>
<circle cx="-37.09" cy="-12.05" r="2.3" fill="#000" stroke-width="1.5" vector-effect="non-scaling-stroke"/>
<circle cx="-22.92" cy="-31.55" r="3.2" fill="#000" stroke-width="1.8" vector-effect="non-scaling-stroke"/>
<circle cx="-0.00" cy="-39.00" r="2.3" fill="#000" stroke-width="1.5" vector-effect="non-scaling-stroke"/>
<circle cx="22.92" cy="-31.55" r="3.2" fill="#000" stroke-width="1.8" vector-effect="non-scaling-stroke"/>
<circle cx="37.09" cy="-12.05" r="2.3" fill="#000" stroke-width="1.5" vector-effect="non-scaling-stroke"/>
<circle cx="0.00" cy="0.00" r="34" fill="#fff" stroke-width="1.0" vector-effect="non-scaling-stroke"/>
<path d="M25.00,0.00 L33.80,0.00 M24.75,3.56 L33.46,4.81 M23.99,7.04 L32.43,9.52 M22.74,10.39 L30.75,14.04 M21.03,13.52 L28.43,18.27 M18.89,16.37 L25.54,22.13 M16.37,18.89 L22.13,25.54 M13.52,21.03 L18.27,28.43 M10.39,22.74 L14.04,30.75 M7.04,23.99 L9.52,32.43 M3.56,24.75 L4.81,33.46 M0.00,25.00 L0.00,33.80 M-3.56,24.75 L-4.81,33.46 M-7.04,23.99 L-9.52,32.43 M-10.39,22.74 L-14.04,30.75 M-13.52,21.03 L-18.27,28.43 M-16.37,18.89 L-22.13,25.54 M-18.89,16.37 L-25.54,22.13 M-21.03,13.52 L-28.43,18.27 M-22.74,10.39 L-30.75,14.04 M-23.99,7.04 L-32.43,9.52 M-24.75,3.56 L-33.46,4.81 M-25.00,0.00 L-33.80,0.00 M-24.75,-3.56 L-33.46,-4.81 M-23.99,-7.04 L-32.43,-9.52 M-22.74,-10.39 L-30.75,-14.04 M-21.03,-13.52 L-28.43,-18.27 M-18.89,-16.37 L-25.54,-22.13 M-16.37,-18.89 L-22.13,-25.54 M-13.52,-21.03 L-18.27,-28.43 M-10.39,-22.74 L-14.04,-30.75 M-7.04,-23.99 L-9.52,-32.43 M-3.56,-24.75 L-4.81,-33.46 M-0.00,-25.00 L-0.00,-33.80 M3.56,-24.75 L4.81,-33.46 M7.04,-23.99 L9.52,-32.43 M10.39,-22.74 L14.04,-30.75 M13.52,-21.03 L18.27,-28.43 M16.37,-18.89 L22.13,-25.54 M18.89,-16.37 L25.54,-22.13 M21.03,-13.52 L28.43,-18.27 M22.74,-10.39 L30.75,-14.04 M23.99,-7.04 L32.43,-9.52 M24.75,-3.56 L33.46,-4.81 " fill="none" stroke-width="2.7" vector-effect="non-scaling-stroke"/>
<circle cx="0.00" cy="0.00" r="24.6" fill="#fff" stroke-width="3.0" vector-effect="non-scaling-stroke"/>
</g>
<ellipse cx="1806.8" cy="367.2" rx="106" ry="67.4" transform="rotate(-52.8 1806.8 367.2)" fill="#fff" stroke-width="1.7" />
<g transform="translate(1808.5,368.5) rotate(-52.8) scale(1.06,0.674)">
<circle cx="0.00" cy="0.00" r="100" fill="#fff" stroke-width="2.0" vector-effect="non-scaling-stroke"/>
<path d="M75.24,-0.51 L88.74,19.95 A1.5,1.5 0 0 0 91.24,18.30 L77.74,-2.16 A1.5,1.5 0 0 0 75.24,-0.51 Z" fill="#fff" stroke-width="1.5" vector-effect="non-scaling-stroke"/>
<path d="M68.94,30.14 L72.95,54.32 A1.5,1.5 0 0 0 75.91,53.83 L71.90,29.65 A1.5,1.5 0 0 0 68.94,30.14 Z" fill="#fff" stroke-width="1.5" vector-effect="non-scaling-stroke"/>
<path d="M50.72,55.57 L44.55,79.30 A1.5,1.5 0 0 0 47.45,80.05 L53.62,56.33 A1.5,1.5 0 0 0 50.72,55.57 Z" fill="#fff" stroke-width="1.5" vector-effect="non-scaling-stroke"/>
<path d="M23.73,71.40 L8.44,90.56 A1.5,1.5 0 0 0 10.79,92.43 L26.08,73.27 A1.5,1.5 0 0 0 23.73,71.40 Z" fill="#fff" stroke-width="1.5" vector-effect="non-scaling-stroke"/>
<path d="M-7.36,74.88 L-29.12,86.17 A1.5,1.5 0 0 0 -27.74,88.83 L-5.98,77.54 A1.5,1.5 0 0 0 -7.36,74.88 Z" fill="#fff" stroke-width="1.5" vector-effect="non-scaling-stroke"/>
<path d="M-37.18,65.41 L-61.65,66.87 A1.5,1.5 0 0 0 -61.47,69.87 L-37.00,68.41 A1.5,1.5 0 0 0 -37.18,65.41 Z" fill="#fff" stroke-width="1.5" vector-effect="non-scaling-stroke"/>
<path d="M-60.57,44.63 L-83.52,36.02 A1.5,1.5 0 0 0 -84.57,38.82 L-61.62,47.44 A1.5,1.5 0 0 0 -60.57,44.63 Z" fill="#fff" stroke-width="1.5" vector-effect="non-scaling-stroke"/>
<path d="M-73.49,16.14 L-90.95,-1.07 A1.5,1.5 0 0 0 -93.05,1.07 L-75.59,18.28 A1.5,1.5 0 0 0 -73.49,16.14 Z" fill="#fff" stroke-width="1.5" vector-effect="non-scaling-stroke"/>
<path d="M-73.70,-15.14 L-82.65,-37.97 A1.5,1.5 0 0 0 -85.44,-36.87 L-76.49,-14.05 A1.5,1.5 0 0 0 -73.70,-15.14 Z" fill="#fff" stroke-width="1.5" vector-effect="non-scaling-stroke"/>
<path d="M-61.17,-43.81 L-60.06,-68.30 A1.5,1.5 0 0 0 -63.06,-68.44 L-64.16,-43.95 A1.5,1.5 0 0 0 -61.17,-43.81 Z" fill="#fff" stroke-width="1.5" vector-effect="non-scaling-stroke"/>
<path d="M-38.06,-64.90 L-27.09,-86.83 A1.5,1.5 0 0 0 -29.77,-88.17 L-40.74,-66.24 A1.5,1.5 0 0 0 -38.06,-64.90 Z" fill="#fff" stroke-width="1.5" vector-effect="non-scaling-stroke"/>
<path d="M-8.37,-74.77 L10.57,-90.34 A1.5,1.5 0 0 0 8.66,-92.65 L-10.28,-77.09 A1.5,1.5 0 0 0 -8.37,-74.77 Z" fill="#fff" stroke-width="1.5" vector-effect="non-scaling-stroke"/>
<path d="M22.77,-71.71 L46.40,-78.23 A1.5,1.5 0 0 0 45.60,-81.12 L21.97,-74.60 A1.5,1.5 0 0 0 22.77,-71.71 Z" fill="#fff" stroke-width="1.5" vector-effect="non-scaling-stroke"/>
<path d="M49.96,-56.25 L74.21,-52.59 A1.5,1.5 0 0 0 74.65,-55.56 L50.41,-59.22 A1.5,1.5 0 0 0 49.96,-56.25 Z" fill="#fff" stroke-width="1.5" vector-effect="non-scaling-stroke"/>
<path d="M68.52,-31.07 L89.18,-17.86 A1.5,1.5 0 0 0 90.80,-20.39 L70.14,-33.59 A1.5,1.5 0 0 0 68.52,-31.07 Z" fill="#fff" stroke-width="1.5" vector-effect="non-scaling-stroke"/>
<circle cx="0.00" cy="0.00" r="71.5" fill="none" stroke-width="1.9" vector-effect="non-scaling-stroke"/>
<circle cx="0.00" cy="0.00" r="68.5" fill="none" stroke-width="1.4" vector-effect="non-scaling-stroke"/>
<path d="M64.20,-6.18 A64.5,64.5 0 0 1 61.51,19.40 L51.02,16.09 A53.5,53.5 0 0 0 53.25,-5.13 Z" fill="#fff" stroke-width="2.1" stroke-linejoin="round" vector-effect="non-scaling-stroke"/>
<path d="M61.44,-2.68 A61.5,61.5 0 0 1 59.26,16.44 L53.96,14.97" fill="none" stroke-width="1.1" vector-effect="non-scaling-stroke"/>
<path d="M55.58,32.74 A64.5,64.5 0 0 1 38.37,51.85 L31.82,43.01 A53.5,53.5 0 0 0 46.10,27.15 Z" fill="#fff" stroke-width="2.1" stroke-linejoin="round" vector-effect="non-scaling-stroke"/>
<path d="M51.28,33.94 A61.5,61.5 0 0 1 38.28,48.13 L34.86,43.83" fill="none" stroke-width="1.1" vector-effect="non-scaling-stroke"/>
<path d="M25.72,59.15 A64.5,64.5 0 0 1 0.56,64.50 L0.47,53.50 A53.5,53.5 0 0 0 21.33,49.06 Z" fill="#fff" stroke-width="2.1" stroke-linejoin="round" vector-effect="non-scaling-stroke"/>
<path d="M21.54,57.61 A61.5,61.5 0 0 1 2.68,61.44 L2.44,55.95" fill="none" stroke-width="1.1" vector-effect="non-scaling-stroke"/>
<path d="M-13.96,62.97 A64.5,64.5 0 0 1 -37.46,52.51 L-31.07,43.56 A53.5,53.5 0 0 0 -11.58,52.23 Z" fill="#fff" stroke-width="2.1" stroke-linejoin="round" vector-effect="non-scaling-stroke"/>
<path d="M-16.44,59.26 A61.5,61.5 0 0 1 -33.94,51.28 L-30.91,46.70" fill="none" stroke-width="1.1" vector-effect="non-scaling-stroke"/>
<path d="M-48.31,42.74 A64.5,64.5 0 0 1 -61.17,20.47 L-50.74,16.98 A53.5,53.5 0 0 0 -40.07,35.45 Z" fill="#fff" stroke-width="2.1" stroke-linejoin="round" vector-effect="non-scaling-stroke"/>
<path d="M-48.13,38.28 A61.5,61.5 0 0 1 -57.61,21.54 L-52.45,19.61" fill="none" stroke-width="1.1" vector-effect="non-scaling-stroke"/>
<path d="M-64.20,6.18 A64.5,64.5 0 0 1 -61.51,-19.40 L-51.02,-16.09 A53.5,53.5 0 0 0 -53.25,5.13 Z" fill="#fff" stroke-width="2.1" stroke-linejoin="round" vector-effect="non-scaling-stroke"/>
<path d="M-61.44,2.68 A61.5,61.5 0 0 1 -59.26,-16.44 L-53.96,-14.97" fill="none" stroke-width="1.1" vector-effect="non-scaling-stroke"/>
<path d="M-55.58,-32.74 A64.5,64.5 0 0 1 -38.37,-51.85 L-31.82,-43.01 A53.5,53.5 0 0 0 -46.10,-27.15 Z" fill="#fff" stroke-width="2.1" stroke-linejoin="round" vector-effect="non-scaling-stroke"/>
<path d="M-51.28,-33.94 A61.5,61.5 0 0 1 -38.28,-48.13 L-34.86,-43.83" fill="none" stroke-width="1.1" vector-effect="non-scaling-stroke"/>
<path d="M-25.72,-59.15 A64.5,64.5 0 0 1 -0.56,-64.50 L-0.47,-53.50 A53.5,53.5 0 0 0 -21.33,-49.06 Z" fill="#fff" stroke-width="2.1" stroke-linejoin="round" vector-effect="non-scaling-stroke"/>
<path d="M-21.54,-57.61 A61.5,61.5 0 0 1 -2.68,-61.44 L-2.44,-55.95" fill="none" stroke-width="1.1" vector-effect="non-scaling-stroke"/>
<path d="M13.96,-62.97 A64.5,64.5 0 0 1 37.46,-52.51 L31.07,-43.56 A53.5,53.5 0 0 0 11.58,-52.23 Z" fill="#fff" stroke-width="2.1" stroke-linejoin="round" vector-effect="non-scaling-stroke"/>
<path d="M16.44,-59.26 A61.5,61.5 0 0 1 33.94,-51.28 L30.91,-46.70" fill="none" stroke-width="1.1" vector-effect="non-scaling-stroke"/>
<path d="M48.31,-42.74 A64.5,64.5 0 0 1 61.17,-20.47 L50.74,-16.98 A53.5,53.5 0 0 0 40.07,-35.45 Z" fill="#fff" stroke-width="2.1" stroke-linejoin="round" vector-effect="non-scaling-stroke"/>
<path d="M48.13,-38.28 A61.5,61.5 0 0 1 57.61,-21.54 L52.45,-19.61" fill="none" stroke-width="1.1" vector-effect="non-scaling-stroke"/>
<circle cx="42.94" cy="19.12" r="2.6" fill="#fff" stroke-width="2.0" vector-effect="non-scaling-stroke"/>
<circle cx="45.97" cy="-9.77" r="1.3" fill="#000" stroke-width="1.4" vector-effect="non-scaling-stroke"/>
<circle cx="-4.91" cy="46.74" r="2.6" fill="#fff" stroke-width="2.0" vector-effect="non-scaling-stroke"/>
<circle cx="23.50" cy="40.70" r="1.3" fill="#000" stroke-width="1.4" vector-effect="non-scaling-stroke"/>
<circle cx="-45.97" cy="9.77" r="2.6" fill="#fff" stroke-width="2.0" vector-effect="non-scaling-stroke"/>
<circle cx="-31.45" cy="34.93" r="1.3" fill="#000" stroke-width="1.4" vector-effect="non-scaling-stroke"/>
<circle cx="-23.50" cy="-40.70" r="2.6" fill="#fff" stroke-width="2.0" vector-effect="non-scaling-stroke"/>
<circle cx="-42.94" cy="-19.12" r="1.3" fill="#000" stroke-width="1.4" vector-effect="non-scaling-stroke"/>
<circle cx="31.45" cy="-34.93" r="2.6" fill="#fff" stroke-width="2.0" vector-effect="non-scaling-stroke"/>
<circle cx="4.91" cy="-46.74" r="1.3" fill="#000" stroke-width="1.4" vector-effect="non-scaling-stroke"/>
<circle cx="0.00" cy="0.00" r="40.5" fill="#111" stroke-width="1.6" vector-effect="non-scaling-stroke"/>
<path d="M31.00,0.00 L40.00,0.00 M30.85,3.04 L39.81,3.92 M30.40,6.05 L39.23,7.80 M29.67,9.00 L38.28,11.61 M28.64,11.86 L36.96,15.31 M27.34,14.61 L35.28,18.86 M25.78,17.22 L33.26,22.22 M23.96,19.67 L30.92,25.38 M21.92,21.92 L28.28,28.28 M19.67,23.96 L25.38,30.92 M17.22,25.78 L22.22,33.26 M14.61,27.34 L18.86,35.28 M11.86,28.64 L15.31,36.96 M9.00,29.67 L11.61,38.28 M6.05,30.40 L7.80,39.23 M3.04,30.85 L3.92,39.81 M0.00,31.00 L0.00,40.00 M-3.04,30.85 L-3.92,39.81 M-6.05,30.40 L-7.80,39.23 M-9.00,29.67 L-11.61,38.28 M-11.86,28.64 L-15.31,36.96 M-14.61,27.34 L-18.86,35.28 M-17.22,25.78 L-22.22,33.26 M-19.67,23.96 L-25.38,30.92 M-21.92,21.92 L-28.28,28.28 M-23.96,19.67 L-30.92,25.38 M-25.78,17.22 L-33.26,22.22 M-27.34,14.61 L-35.28,18.86 M-28.64,11.86 L-36.96,15.31 M-29.67,9.00 L-38.28,11.61 M-30.40,6.05 L-39.23,7.80 M-30.85,3.04 L-39.81,3.92 M-31.00,0.00 L-40.00,0.00 M-30.85,-3.04 L-39.81,-3.92 M-30.40,-6.05 L-39.23,-7.80 M-29.67,-9.00 L-38.28,-11.61 M-28.64,-11.86 L-36.96,-15.31 M-27.34,-14.61 L-35.28,-18.86 M-25.78,-17.22 L-33.26,-22.22 M-23.96,-19.67 L-30.92,-25.38 M-21.92,-21.92 L-28.28,-28.28 M-19.67,-23.96 L-25.38,-30.92 M-17.22,-25.78 L-22.22,-33.26 M-14.61,-27.34 L-18.86,-35.28 M-11.86,-28.64 L-15.31,-36.96 M-9.00,-29.67 L-11.61,-38.28 M-6.05,-30.40 L-7.80,-39.23 M-3.04,-30.85 L-3.92,-39.81 M-0.00,-31.00 L-0.00,-40.00 M3.04,-30.85 L3.92,-39.81 M6.05,-30.40 L7.80,-39.23 M9.00,-29.67 L11.61,-38.28 M11.86,-28.64 L15.31,-36.96 M14.61,-27.34 L18.86,-35.28 M17.22,-25.78 L22.22,-33.26 M19.67,-23.96 L25.38,-30.92 M21.92,-21.92 L28.28,-28.28 M23.96,-19.67 L30.92,-25.38 M25.78,-17.22 L33.26,-22.22 M27.34,-14.61 L35.28,-18.86 M28.64,-11.86 L36.96,-15.31 M29.67,-9.00 L38.28,-11.61 M30.40,-6.05 L39.23,-7.80 M30.85,-3.04 L39.81,-3.92 " fill="none" stroke-width="0.7" vector-effect="non-scaling-stroke"/>
<g stroke="#fff">
<path d="M31.96,1.56 L39.15,1.91 M31.65,4.69 L38.78,5.74 M31.04,7.77 L38.03,9.52 M30.13,10.77 L36.91,13.20 M28.93,13.68 L35.44,16.75 M27.45,16.45 L33.63,20.15 M25.71,19.06 L31.49,23.34 M23.72,21.48 L29.05,26.32 M21.50,23.71 L26.33,29.04 M19.07,25.70 L23.36,31.48 M16.46,27.44 L20.16,33.62 M13.69,28.92 L16.77,35.43 M10.79,30.13 L13.21,36.91 M7.78,31.04 L9.53,38.02 M4.70,31.65 L5.76,38.77 M1.58,31.96 L1.93,39.15 M-1.56,31.96 L-1.91,39.15 M-4.69,31.65 L-5.74,38.78 M-7.77,31.04 L-9.52,38.03 M-10.77,30.13 L-13.20,36.91 M-13.68,28.93 L-16.75,35.44 M-16.45,27.45 L-20.15,33.63 M-19.06,25.71 L-23.34,31.49 M-21.48,23.72 L-26.32,29.05 M-23.71,21.50 L-29.04,26.33 M-25.70,19.07 L-31.48,23.36 M-27.44,16.46 L-33.62,20.16 M-28.92,13.69 L-35.43,16.77 M-30.13,10.79 L-36.91,13.21 M-31.04,7.78 L-38.02,9.53 M-31.65,4.70 L-38.77,5.76 M-31.96,1.58 L-39.15,1.93 M-31.96,-1.56 L-39.15,-1.91 M-31.65,-4.69 L-38.78,-5.74 M-31.04,-7.77 L-38.03,-9.52 M-30.13,-10.77 L-36.91,-13.20 M-28.93,-13.68 L-35.44,-16.75 M-27.45,-16.45 L-33.63,-20.15 M-25.71,-19.06 L-31.49,-23.34 M-23.72,-21.48 L-29.05,-26.32 M-21.50,-23.71 L-26.33,-29.04 M-19.07,-25.70 L-23.36,-31.48 M-16.46,-27.44 L-20.16,-33.62 M-13.69,-28.92 L-16.77,-35.43 M-10.79,-30.13 L-13.21,-36.91 M-7.78,-31.04 L-9.53,-38.02 M-4.70,-31.65 L-5.76,-38.77 M-1.58,-31.96 L-1.93,-39.15 M1.56,-31.96 L1.91,-39.15 M4.69,-31.65 L5.74,-38.78 M7.77,-31.04 L9.52,-38.03 M10.77,-30.13 L13.20,-36.91 M13.68,-28.93 L16.75,-35.44 M16.45,-27.45 L20.15,-33.63 M19.06,-25.71 L23.34,-31.49 M21.48,-23.72 L26.32,-29.05 M23.71,-21.50 L29.04,-26.33 M25.70,-19.07 L31.48,-23.36 M27.44,-16.46 L33.62,-20.16 M28.92,-13.69 L35.43,-16.77 M30.13,-10.79 L36.91,-13.21 M31.04,-7.78 L38.02,-9.53 M31.65,-4.70 L38.77,-5.76 M31.96,-1.58 L39.15,-1.93 " fill="none" stroke-width="0.55" vector-effect="non-scaling-stroke"/>
</g>
<circle cx="0.00" cy="0.00" r="28.5" fill="#fff" stroke-width="2.6" vector-effect="non-scaling-stroke"/>
</g>
<path d="M1227.5531605494307,557.6702591758541 L1214.0531605494307,548.6702591758541 L1210.9468394505693,553.3297408241459 L1224.4468394505693,562.3297408241459 Z" fill="#fff" stroke-width="1.5" />
<ellipse cx="1212.5" cy="551" rx="1.4" ry="2.8" transform="rotate(-146.30993247402023 1212.5 551)" fill="#fff" stroke-width="1.4" />
<ellipse cx="1224.3358994113244" cy="558.8905996075496" rx="4.992000000000001" ry="6.4" transform="rotate(-146.30993247402023 1224.3358994113244 558.8905996075496)" fill="#fff" stroke-width="1.5" />
<ellipse cx="1226" cy="560" rx="4.992000000000001" ry="6.4" transform="rotate(-146.30993247402023 1226 560)" fill="#fff" stroke-width="2.5" />
<ellipse cx="1226" cy="560" rx="2.5600000000000005" ry="3.3280000000000003" transform="rotate(-146.30993247402023 1226 560)" fill="none" stroke-width="2.0" />
<ellipse cx="1226" cy="560" rx="0.768" ry="1.152" transform="rotate(-146.30993247402023 1226 560)" fill="#000" stroke-width="1.2" />
<path d="M1182.5722039713444,584.683067831703 L1168.5722039713444,575.183067831703 L1165.4277960286556,579.816932168297 L1179.4277960286556,589.316932168297 Z" fill="#fff" stroke-width="1.5" />
<ellipse cx="1167" cy="577.5" rx="1.4" ry="2.8" transform="rotate(-145.84030545433058 1167 577.5)" fill="#fff" stroke-width="1.4" />
<ellipse cx="1179.3450484512164" cy="585.8769971633254" rx="4.992000000000001" ry="6.4" transform="rotate(-145.84030545433058 1179.3450484512164 585.8769971633254)" fill="#fff" stroke-width="1.5" />
<ellipse cx="1181" cy="587" rx="4.992000000000001" ry="6.4" transform="rotate(-145.84030545433058 1181 587)" fill="#fff" stroke-width="2.5" />
<ellipse cx="1181" cy="587" rx="2.5600000000000005" ry="3.3280000000000003" transform="rotate(-145.84030545433058 1181 587)" fill="none" stroke-width="2.0" />
<ellipse cx="1181" cy="587" rx="0.768" ry="1.152" transform="rotate(-145.84030545433058 1181 587)" fill="#000" stroke-width="1.2" />
<path d="M1244.5531605494307,592.1702591758541 L1231.0531605494307,583.1702591758541 L1227.9468394505693,587.8297408241459 L1241.4468394505693,596.8297408241459 Z" fill="#fff" stroke-width="1.5" />
<ellipse cx="1229.5" cy="585.5" rx="1.4" ry="2.8" transform="rotate(-146.30993247402023 1229.5 585.5)" fill="#fff" stroke-width="1.4" />
<ellipse cx="1241.3358994113244" cy="593.3905996075496" rx="4.992000000000001" ry="6.4" transform="rotate(-146.30993247402023 1241.3358994113244 593.3905996075496)" fill="#fff" stroke-width="1.5" />
<ellipse cx="1243" cy="594.5" rx="4.992000000000001" ry="6.4" transform="rotate(-146.30993247402023 1243 594.5)" fill="#fff" stroke-width="2.5" />
<ellipse cx="1243" cy="594.5" rx="2.5600000000000005" ry="3.3280000000000003" transform="rotate(-146.30993247402023 1243 594.5)" fill="none" stroke-width="2.0" />
<ellipse cx="1243" cy="594.5" rx="0.768" ry="1.152" transform="rotate(-146.30993247402023 1243 594.5)" fill="#000" stroke-width="1.2" />
<path d="M1170.5722039713444,636.683067831703 L1156.5722039713444,627.183067831703 L1153.4277960286556,631.816932168297 L1167.4277960286556,641.316932168297 Z" fill="#fff" stroke-width="1.5" />
<ellipse cx="1155" cy="629.5" rx="1.4" ry="2.8" transform="rotate(-145.84030545433058 1155 629.5)" fill="#fff" stroke-width="1.4" />
<ellipse cx="1167.3450484512164" cy="637.8769971633254" rx="4.992000000000001" ry="6.4" transform="rotate(-145.84030545433058 1167.3450484512164 637.8769971633254)" fill="#fff" stroke-width="1.5" />
<ellipse cx="1169" cy="639" rx="4.992000000000001" ry="6.4" transform="rotate(-145.84030545433058 1169 639)" fill="#fff" stroke-width="2.5" />
<ellipse cx="1169" cy="639" rx="2.5600000000000005" ry="3.3280000000000003" transform="rotate(-145.84030545433058 1169 639)" fill="none" stroke-width="2.0" />
<ellipse cx="1169" cy="639" rx="0.768" ry="1.152" transform="rotate(-145.84030545433058 1169 639)" fill="#000" stroke-width="1.2" />
<path d="M1209.0531605494307,640.6702591758541 L1195.5531605494307,631.6702591758541 L1192.4468394505693,636.3297408241459 L1205.9468394505693,645.3297408241459 Z" fill="#fff" stroke-width="1.5" />
<ellipse cx="1194" cy="634" rx="1.4" ry="2.8" transform="rotate(-146.30993247402023 1194 634)" fill="#fff" stroke-width="1.4" />
<ellipse cx="1205.8358994113244" cy="641.8905996075496" rx="4.992000000000001" ry="6.4" transform="rotate(-146.30993247402023 1205.8358994113244 641.8905996075496)" fill="#fff" stroke-width="1.5" />
<ellipse cx="1207.5" cy="643" rx="4.992000000000001" ry="6.4" transform="rotate(-146.30993247402023 1207.5 643)" fill="#fff" stroke-width="2.5" />
<ellipse cx="1207.5" cy="643" rx="2.5600000000000005" ry="3.3280000000000003" transform="rotate(-146.30993247402023 1207.5 643)" fill="none" stroke-width="2.0" />
<ellipse cx="1207.5" cy="643" rx="0.768" ry="1.152" transform="rotate(-146.30993247402023 1207.5 643)" fill="#000" stroke-width="1.2" />
<path d="M1672.3725330575865,228.27845371937886 L1686.3725330575865,238.27845371937886 L1689.6274669424135,233.72154628062114 L1675.6274669424135,223.72154628062114 Z" fill="#fff" stroke-width="1.5" />
<ellipse cx="1688" cy="236" rx="1.4" ry="2.8" transform="rotate(35.53767779197438 1688 236)" fill="#fff" stroke-width="1.4" />
<ellipse cx="1675.6274669424135" cy="227.1624763874382" rx="4.992000000000001" ry="6.4" transform="rotate(35.53767779197438 1675.6274669424135 227.1624763874382)" fill="#fff" stroke-width="1.5" />
<ellipse cx="1674" cy="226" rx="4.992000000000001" ry="6.4" transform="rotate(35.53767779197438 1674 226)" fill="#fff" stroke-width="2.5" />
<ellipse cx="1674" cy="226" rx="2.5600000000000005" ry="3.3280000000000003" transform="rotate(35.53767779197438 1674 226)" fill="none" stroke-width="2.0" />
<ellipse cx="1674" cy="226" rx="0.768" ry="1.152" transform="rotate(35.53767779197438 1674 226)" fill="#000" stroke-width="1.2" />
<path d="M1709.3725330575865,239.27845371937886 L1723.3725330575865,249.27845371937886 L1726.6274669424135,244.72154628062114 L1712.6274669424135,234.72154628062114 Z" fill="#fff" stroke-width="1.5" />
<ellipse cx="1725" cy="247" rx="1.4" ry="2.8" transform="rotate(35.53767779197438 1725 247)" fill="#fff" stroke-width="1.4" />
<ellipse cx="1712.6274669424135" cy="238.1624763874382" rx="4.992000000000001" ry="6.4" transform="rotate(35.53767779197438 1712.6274669424135 238.1624763874382)" fill="#fff" stroke-width="1.5" />
<ellipse cx="1711" cy="237" rx="4.992000000000001" ry="6.4" transform="rotate(35.53767779197438 1711 237)" fill="#fff" stroke-width="2.5" />
<ellipse cx="1711" cy="237" rx="2.5600000000000005" ry="3.3280000000000003" transform="rotate(35.53767779197438 1711 237)" fill="none" stroke-width="2.0" />
<ellipse cx="1711" cy="237" rx="0.768" ry="1.152" transform="rotate(35.53767779197438 1711 237)" fill="#000" stroke-width="1.2" />
<path d="M1633.3725330575865,274.77845371937883 L1647.3725330575865,284.77845371937883 L1650.6274669424135,280.22154628062117 L1636.6274669424135,270.22154628062117 Z" fill="#fff" stroke-width="1.5" />
<ellipse cx="1649" cy="282.5" rx="1.4" ry="2.8" transform="rotate(35.53767779197438 1649 282.5)" fill="#fff" stroke-width="1.4" />
<ellipse cx="1636.6274669424135" cy="273.6624763874382" rx="4.992000000000001" ry="6.4" transform="rotate(35.53767779197438 1636.6274669424135 273.6624763874382)" fill="#fff" stroke-width="1.5" />
<ellipse cx="1635" cy="272.5" rx="4.992000000000001" ry="6.4" transform="rotate(35.53767779197438 1635 272.5)" fill="#fff" stroke-width="2.5" />
<ellipse cx="1635" cy="272.5" rx="2.5600000000000005" ry="3.3280000000000003" transform="rotate(35.53767779197438 1635 272.5)" fill="none" stroke-width="2.0" />
<ellipse cx="1635" cy="272.5" rx="0.768" ry="1.152" transform="rotate(35.53767779197438 1635 272.5)" fill="#000" stroke-width="1.2" />
<path d="M1692.3725330575865,290.27845371937883 L1706.3725330575865,300.27845371937883 L1709.6274669424135,295.72154628062117 L1695.6274669424135,285.72154628062117 Z" fill="#fff" stroke-width="1.5" />
<ellipse cx="1708" cy="298" rx="1.4" ry="2.8" transform="rotate(35.53767779197438 1708 298)" fill="#fff" stroke-width="1.4" />
<ellipse cx="1695.6274669424135" cy="289.1624763874382" rx="4.992000000000001" ry="6.4" transform="rotate(35.53767779197438 1695.6274669424135 289.1624763874382)" fill="#fff" stroke-width="1.5" />
<ellipse cx="1694" cy="288" rx="4.992000000000001" ry="6.4" transform="rotate(35.53767779197438 1694 288)" fill="#fff" stroke-width="2.5" />
<ellipse cx="1694" cy="288" rx="2.5600000000000005" ry="3.3280000000000003" transform="rotate(35.53767779197438 1694 288)" fill="none" stroke-width="2.0" />
<ellipse cx="1694" cy="288" rx="0.768" ry="1.152" transform="rotate(35.53767779197438 1694 288)" fill="#000" stroke-width="1.2" />
<path d="M1645.3725330575865,313.27845371937883 L1659.3725330575865,323.27845371937883 L1662.6274669424135,318.72154628062117 L1648.6274669424135,308.72154628062117 Z" fill="#fff" stroke-width="1.5" />
<ellipse cx="1661" cy="321" rx="1.4" ry="2.8" transform="rotate(35.53767779197438 1661 321)" fill="#fff" stroke-width="1.4" />
<ellipse cx="1648.6274669424135" cy="312.1624763874382" rx="4.992000000000001" ry="6.4" transform="rotate(35.53767779197438 1648.6274669424135 312.1624763874382)" fill="#fff" stroke-width="1.5" />
<ellipse cx="1647" cy="311" rx="4.992000000000001" ry="6.4" transform="rotate(35.53767779197438 1647 311)" fill="#fff" stroke-width="2.5" />
<ellipse cx="1647" cy="311" rx="2.5600000000000005" ry="3.3280000000000003" transform="rotate(35.53767779197438 1647 311)" fill="none" stroke-width="2.0" />
<ellipse cx="1647" cy="311" rx="0.768" ry="1.152" transform="rotate(35.53767779197438 1647 311)" fill="#000" stroke-width="1.2" />
<path d="M1486.7381318400278,79.30213449743579 L1495.0115674873466,85.09525650458136 L1497.535303807291,81.49098750970978 L1489.2618681599722,75.69786550256421 Z" fill="#fff" stroke-width="1.5" />
<ellipse cx="1496.2734356473188" cy="83.29312200714557" rx="1.2100000000000002" ry="2.2" transform="rotate(35 1496.2734356473188 83.29312200714557)" fill="#fff" stroke-width="1.4" />
<ellipse cx="1489.2287280664334" cy="78.36036465452656" rx="3.6799999999999997" ry="5.199999999999999" transform="rotate(35 1489.2287280664334 78.36036465452656)" fill="#fff" stroke-width="1.5" />
<ellipse cx="1488" cy="77.5" rx="3.6799999999999997" ry="4.6" transform="rotate(35 1488 77.5)" fill="#222" stroke-width="2.2" />
<ellipse cx="1487.7542543867132" cy="77.32792706909468" rx="1.564" ry="2.116" transform="rotate(35 1487.7542543867132 77.32792706909468)" fill="none" stroke-width="0.9" stroke="#ddd"/>
<path d="M1323.8544552457165,692.7663763420652 L1315.3439391067639,686.1172324085481 L1312.6350286153308,689.5844797244177 L1321.1455447542835,696.2336236579348 Z" fill="#fff" stroke-width="1.5" />
<ellipse cx="1313.9894838610473" cy="687.850856066483" rx="1.2100000000000002" ry="2.2" transform="rotate(218 1313.9894838610473 687.850856066483)" fill="#fff" stroke-width="1.4" />
<ellipse cx="1321.3179838695899" cy="693.5765077870116" rx="3.84" ry="5.3999999999999995" transform="rotate(218 1321.3179838695899 693.5765077870116)" fill="#fff" stroke-width="1.5" />
<ellipse cx="1322.5" cy="694.5" rx="3.84" ry="4.8" transform="rotate(218 1322.5 694.5)" fill="#222" stroke-width="2.2" />
<ellipse cx="1322.736403226082" cy="694.6846984425977" rx="1.6320000000000001" ry="2.208" transform="rotate(218 1322.736403226082 694.6846984425977)" fill="none" stroke-width="0.9" stroke="#ddd"/>
<path d="M1612.218242300984,439.5266454963496 L1604.1368857622251,436.58527226374883 L1602.7004011602571,440.53198127104963 L1610.781757699016,443.4733545036504 Z" fill="#fff" stroke-width="1.5" />
<ellipse cx="1603.4186434612411" cy="438.55862676739923" rx="1.1550000000000002" ry="2.1" transform="rotate(200 1603.4186434612411 438.55862676739923)" fill="#fff" stroke-width="1.4" />
<ellipse cx="1610.0904610688212" cy="440.9869697850115" rx="3.6799999999999997" ry="5.199999999999999" transform="rotate(200 1610.0904610688212 440.9869697850115)" fill="#fff" stroke-width="1.5" />
<ellipse cx="1611.5" cy="441.5" rx="3.6799999999999997" ry="4.6" transform="rotate(200 1611.5 441.5)" fill="#222" stroke-width="2.2" />
<ellipse cx="1611.7819077862357" cy="441.6026060429977" rx="1.564" ry="2.116" transform="rotate(200 1611.7819077862357 441.6026060429977)" fill="none" stroke-width="0.9" stroke="#ddd"/>
<path d="M1656.3186533479472,471.95 L1652.3686533479472,465.1083993101029 L1648.7313466520527,467.20839931010295 L1652.6813466520528,474.05 Z" fill="#fff" stroke-width="1.5" />
<ellipse cx="1650.55" cy="466.15839931010294" rx="1.1550000000000002" ry="2.1" transform="rotate(240 1650.55 466.15839931010294)" fill="#fff" stroke-width="1.4" />
<ellipse cx="1653.75" cy="471.70096189432337" rx="3.5200000000000005" ry="5.0" transform="rotate(240 1653.75 471.70096189432337)" fill="#fff" stroke-width="1.5" />
<ellipse cx="1654.5" cy="473" rx="3.5200000000000005" ry="4.4" transform="rotate(240 1654.5 473)" fill="#222" stroke-width="2.2" />
<ellipse cx="1654.65" cy="473.25980762113534" rx="1.4960000000000002" ry="2.0240000000000005" transform="rotate(240 1654.65 473.25980762113534)" fill="none" stroke-width="0.9" stroke="#ddd"/>
<path d="M1630.8498539803418,543.3913066694502 L1624.4916851024543,538.0561695090519 L1621.7919771417708,541.2735561701516 L1628.1501460196582,546.6086933305498 Z" fill="#fff" stroke-width="1.5" />
<ellipse cx="1623.1418311221125" cy="539.6648628396017" rx="1.1550000000000002" ry="2.1" transform="rotate(220 1623.1418311221125 539.6648628396017)" fill="#fff" stroke-width="1.4" />
<ellipse cx="1628.3509333353215" cy="544.0358185854702" rx="3.84" ry="5.3999999999999995" transform="rotate(220 1628.3509333353215 544.0358185854702)" fill="#fff" stroke-width="1.5" />
<ellipse cx="1629.5" cy="545" rx="3.84" ry="4.8" transform="rotate(220 1629.5 545)" fill="#222" stroke-width="2.2" />
<ellipse cx="1629.7298133329357" cy="545.192836282906" rx="1.6320000000000001" ry="2.208" transform="rotate(220 1629.7298133329357 545.192836282906)" fill="none" stroke-width="0.9" stroke="#ddd"/>
<path d="M1697.9733545036504,543.7817576990161 L1695.2029913427125,536.1702474706502 L1691.2562823354117,537.606732072618 L1694.0266454963496,545.2182423009839 Z" fill="#fff" stroke-width="1.5" />
<ellipse cx="1693.229636839062" cy="536.8884897716341" rx="1.1550000000000002" ry="2.1" transform="rotate(250 1693.229636839062 536.8884897716341)" fill="#fff" stroke-width="1.4" />
<ellipse cx="1695.4869697850115" cy="543.0904610688211" rx="3.6799999999999997" ry="5.199999999999999" transform="rotate(250 1695.4869697850115 543.0904610688211)" fill="#fff" stroke-width="1.5" />
<ellipse cx="1696" cy="544.5" rx="3.6799999999999997" ry="4.6" transform="rotate(250 1696 544.5)" fill="#222" stroke-width="2.2" />
<ellipse cx="1696.1026060429976" cy="544.7819077862358" rx="1.564" ry="2.116" transform="rotate(250 1696.1026060429976 544.7819077862358)" fill="none" stroke-width="0.9" stroke="#ddd"/>
<path d="M1360.8656672079987,568.1308731273813 L1376.8656672079987,561.6308731273813 L1375.1343327920013,557.3691268726187 L1359.1343327920013,563.8691268726187 Z" fill="#fff" stroke-width="1.5" />
<ellipse cx="1376" cy="559.5" rx="1.15" ry="2.3" transform="rotate(-22.109448343751673 1376 559.5)" fill="#fff" stroke-width="1.4" />
<ellipse cx="1361.8529331542445" cy="565.2472459060881" rx="4.056" ry="5.2" transform="rotate(-22.109448343751673 1361.8529331542445 565.2472459060881)" fill="#fff" stroke-width="1.5" />
<ellipse cx="1360" cy="566" rx="4.056" ry="5.2" transform="rotate(-22.109448343751673 1360 566)" fill="#fff" stroke-width="2.5" />
<ellipse cx="1360" cy="566" rx="2.08" ry="2.704" transform="rotate(-22.109448343751673 1360 566)" fill="none" stroke-width="2.0" />
<ellipse cx="1360" cy="566" rx="0.624" ry="0.9359999999999999" transform="rotate(-22.109448343751673 1360 566)" fill="#000" stroke-width="1.2" />
<path d="M1536.1939890598048,662.8374822918663 L1535.1939890598048,649.3374822918663 L1530.8060109401952,649.6625177081337 L1531.8060109401952,663.1625177081337 Z" fill="#fff" stroke-width="1.5" />
<ellipse cx="1533" cy="649.5" rx="1.1" ry="2.2" transform="rotate(-94.23639479905884 1533 649.5)" fill="#fff" stroke-width="1.4" />
<ellipse cx="1533.8522566289694" cy="661.0054644910866" rx="3.9000000000000004" ry="5.0" transform="rotate(-94.23639479905884 1533.8522566289694 661.0054644910866)" fill="#fff" stroke-width="1.5" />
<ellipse cx="1534" cy="663" rx="3.9000000000000004" ry="5.0" transform="rotate(-94.23639479905884 1534 663)" fill="#fff" stroke-width="2.5" />
<ellipse cx="1534" cy="663" rx="2.0" ry="2.6" transform="rotate(-94.23639479905884 1534 663)" fill="none" stroke-width="2.0" />
<ellipse cx="1534" cy="663" rx="0.6" ry="0.8999999999999999" transform="rotate(-94.23639479905884 1534 663)" fill="#000" stroke-width="1.2" />
<line x1="1509.5" y1="114.5" x2="1524" y2="127.5" stroke-width="4.2" />
<line x1="1510" y1="115" x2="1523" y2="126.5" stroke-width="1.4" stroke="#fff"/>
<path d="M1520.5,124.5 L1527,121 L1538,124 L1542.5,131 L1541,139.5 L1535,141 L1528,135 L1522,131 Z" fill="#111" stroke-width="1.8" />
<circle cx="1537.5" cy="127.5" r="2.0" fill="#fff" stroke-width="1.2"/>
<circle cx="1536.5" cy="137" r="1.8" fill="#fff" stroke-width="1.2"/>
<line x1="1524" y1="126" x2="1530" y2="133" stroke-width="1" stroke="#fff"/>
<line x1="1280" y1="649.5" x2="1300" y2="662.5" stroke-width="6.2" />
<line x1="1290" y1="656" x2="1286.5" y2="663" stroke-width="6.0" />
<line x1="1282" y1="650.8" x2="1285.5" y2="653" stroke-width="1.0" stroke="#fff"/>
<line x1="1295" y1="659.2" x2="1298.5" y2="661.5" stroke-width="1.0" stroke="#fff"/>
<circle cx="1286.3" cy="667.2" r="3.9" fill="#fff" stroke-width="2.9"/>
<circle cx="1286.3" cy="667.2" r="1.2" fill="none" stroke-width="1.0"/>
<ellipse cx="1455.0" cy="521.4" rx="6.0" ry="7.8" transform="rotate(-25 1455.0 521.4)" fill="#111" stroke-width="2.4" />
<ellipse cx="1453.5" cy="520.3" rx="6.0" ry="7.8" transform="rotate(-25 1453.5 520.3)" fill="#111" stroke-width="2.0" />
<ellipse cx="1451.8" cy="519.1" rx="5.6" ry="7.4" transform="rotate(-25 1451.8 519.1)" fill="#fff" stroke-width="2.2" />
<ellipse cx="1451.8" cy="519.1" rx="2.6" ry="3.6" transform="rotate(-25 1451.8 519.1)" fill="#fff" stroke-width="1.6" />
<ellipse cx="1537" cy="565.5" rx="7.0" ry="4.6" transform="rotate(0 1537 565.5)" fill="#111" stroke-width="2.2" />
<ellipse cx="1537" cy="567.5" rx="6.8" ry="4.2" transform="rotate(0 1537 567.5)" fill="#111" stroke-width="1.6" />
<ellipse cx="1537" cy="561.5" rx="7.0" ry="4.6" transform="rotate(0 1537 561.5)" fill="#fff" stroke-width="2.0" />
<ellipse cx="1537" cy="561.5" rx="3.6" ry="2.2" transform="rotate(0 1537 561.5)" fill="#fff" stroke-width="1.5" />
<path d="M1425,529.5 L1432,527 L1433.5,531.5 L1426.5,534 Z" fill="#fff" stroke-width="1.4" />
<ellipse cx="1432.8" cy="529.3" rx="1.3" ry="2.4" transform="rotate(-20 1432.8 529.3)" fill="#fff" stroke-width="1.3" />
<ellipse cx="1424.5" cy="534.5" rx="5.4" ry="6.6" transform="rotate(-20 1424.5 534.5)" fill="#fff" stroke-width="1.8" />
<ellipse cx="1424.5" cy="534.5" rx="2.2" ry="2.9" transform="rotate(-20 1424.5 534.5)" fill="#fff" stroke-width="1.4" />
<ellipse cx="1536" cy="595" rx="8.2" ry="5.2" transform="rotate(0 1536 595)" fill="#fff" stroke-width="1.9" />
<path d="M1532.8,587.5 L1539.2,587.5 L1539.2,594 L1532.8,594 Z" fill="#fff" stroke-width="1.5" />
<ellipse cx="1536" cy="594" rx="3.2" ry="1.7" transform="rotate(0 1536 594)" fill="#fff" stroke-width="1.3" />
<ellipse cx="1536" cy="587.5" rx="3.2" ry="1.7" transform="rotate(0 1536 587.5)" fill="#fff" stroke-width="1.4" />
<path d="M1496,272 L1490,266 L1490,250 L1496,244 L1505,242.5 L1509,247.5 L1524,207.5 L1541,181 L1552.5,175.5 L1566,179.5 L1580,170 L1590,158 L1598,151 L1611,152.5 L1614,172.5 L1620,172.5 L1621.5,178 L1616,187.5 L1610,190 L1606,195.5 L1605,206 L1608,214 L1600,234 L1581,234 Z" fill="#fff" stroke-width="1.9" />
<path d="M1490,250 L1496,255.5 L1505,253.5 L1509,247.5" fill="none" stroke-width="1.7" />
<line x1="1496" y1="255.5" x2="1496" y2="272" stroke-width="1.7" />
<line x1="1490" y1="258.5" x2="1496" y2="264" stroke-width="1.5" />
<path d="M1505,253.5 L1526,211 L1534.5,202" fill="none" stroke-width="1.7" />
<path d="M1545,184 L1552.5,176 L1566,180 L1569,186.5 L1557.5,196.5 L1537.5,206.5 L1534,202.5 Z" fill="#fff" stroke-width="2.0" />
<line x1="1541" y1="190" x2="1548" y2="194" stroke-width="1.5" />
<ellipse cx="1559" cy="184.5" rx="1.7" ry="1.7" transform="rotate(0 1559 184.5)" fill="#000" stroke-width="1" />
<line x1="1537" y1="198" x2="1542" y2="201" stroke-width="1.4" />
<path d="M1541,181 L1545,184 L1534,202.5 L1530,199.5 Z" fill="#fff" stroke-width="1.5" />
<path d="M1566,177.5 C1574,176 1582,170 1588,161 C1591,156 1596,152 1601,150" fill="none" stroke-width="4.6" />
<path d="M1566,177.5 C1574,176 1582,170 1588,161 C1591,156 1596,152 1601,150" fill="none" stroke-width="1.6" stroke="#fff"/>
<ellipse cx="1606" cy="146.5" rx="7.6" ry="8.6" transform="rotate(-20 1606 146.5)" fill="#fff" stroke-width="1.9" />
<ellipse cx="1608.5" cy="145" rx="5.8" ry="6.8" transform="rotate(-20 1608.5 145)" fill="#fff" stroke-width="1.8" />
<ellipse cx="1609" cy="144.8" rx="3.0" ry="3.6" transform="rotate(-20 1609 144.8)" fill="#333" stroke-width="1.6" />
<ellipse cx="1606" cy="186" rx="2.2" ry="3.2" transform="rotate(30 1606 186)" fill="#fff" stroke-width="1.5" />
<ellipse cx="1614" cy="186" rx="1.8" ry="2.2" transform="rotate(0 1614 186)" fill="#000" stroke-width="1" />
<ellipse cx="1614.5" cy="173.5" rx="1.6" ry="1.6" transform="rotate(0 1614.5 173.5)" fill="#000" stroke-width="1" />
<ellipse cx="1595.5" cy="219.5" rx="14.6" ry="17.6" transform="rotate(35 1595.5 219.5)" fill="#fff" stroke-width="1.9" />
<ellipse cx="1597" cy="218.5" rx="12.6" ry="15.6" transform="rotate(35 1597 218.5)" fill="#fff" stroke-width="1.5" />
<ellipse cx="1597.5" cy="218.5" rx="7.4" ry="9.8" transform="rotate(35 1597.5 218.5)" fill="#fff" stroke-width="1.8" />
<path d="M1494,492.5 L1500,470 L1505,468.5 L1514,476.5 L1520,459 L1530,467.5 L1536,466 L1544,459 L1552.5,456 L1557.5,461 L1556,469 L1559,477.5 L1557.5,502.5 L1552.5,534 L1546,539 L1539,535 L1535,512.5 L1530,507.5 L1512.5,494 L1509,494.5 L1509,504 L1504,507.5 L1496,504 Z" fill="#fff" stroke-width="2.0" />
<path d="M1530,472.5 L1536,469 L1559,477.5 L1557.5,500.5 L1537.5,486 L1530,484.5 Z" fill="#fff" stroke-width="1.8" />
<path d="M1502,472 L1513.5,480 L1519.5,463" fill="none" stroke-width="1.3" />
<path d="M1512.5,494 L1531,507" fill="none" stroke-width="1.2" />
<line x1="1552.5" y1="534" x2="1557" y2="502" stroke-width="1.0" />
<ellipse cx="1501" cy="497" rx="1.6" ry="2.2" transform="rotate(30 1501 497)" fill="#000" stroke-width="1" />
<ellipse cx="1527.5" cy="486" rx="2.6" ry="3.4" transform="rotate(20 1527.5 486)" fill="#fff" stroke-width="1.6" />
<ellipse cx="1537" cy="476" rx="1.8" ry="2.8" transform="rotate(20 1537 476)" fill="#000" stroke-width="1" />
<ellipse cx="1542.5" cy="529" rx="1.5" ry="2.0" transform="rotate(20 1542.5 529)" fill="#000" stroke-width="1" />
<ellipse cx="1550.5" cy="461" rx="4.0" ry="3.0" transform="rotate(0 1550.5 461)" fill="#fff" stroke-width="1.7" />
<ellipse cx="1550.5" cy="459.5" rx="3.0" ry="2.0" transform="rotate(0 1550.5 459.5)" fill="#fff" stroke-width="1.4" />
<ellipse cx="1559" cy="491" rx="1.6" ry="3.0" transform="rotate(0 1559 491)" fill="#fff" stroke-width="1.4" />
<ellipse cx="1664" cy="623.5" rx="21.5" ry="28.5" transform="rotate(18 1664 623.5)" fill="#fff" stroke-width="1.8" />
<ellipse cx="1673" cy="630.5" rx="17.5" ry="23.5" transform="rotate(18 1673 630.5)" fill="#fff" stroke-width="1.6" />
<path d="M1762.4,606.3 L1761.1,665 L1696.8,691.5 L1696.8,655.1 L1733.9,639 L1735.1,642 L1746.3,637.8 L1746.3,627.9 L1735.1,632.8 L1735.1,636 L1726.5,639.5 L1726.5,625.4 L1698,637.8 L1698,636.5 Z" fill="#fff" stroke-width="1.9" />
<path d="M1698,641.5 L1720.3,630.8 L1720.3,639.5 L1726.5,639.5" fill="none" stroke-width="1.6" />
<line x1="1698" y1="637.8" x2="1698" y2="641.5" stroke-width="1.6" />
<path d="M1653.5,660 L1664.6,654.4 C1666,661 1669,665 1673.3,666.5 L1688.1,668.7 L1693,665 L1696.8,668.7" fill="none" stroke-width="1.8" />
<ellipse cx="1681.9" cy="660.8" rx="3.4" ry="2.6" transform="rotate(0 1681.9 660.8)" fill="#fff" stroke-width="1.6" />
<path d="M1654.7,605.6 L1721.5,574.7 L1762.4,606.3" fill="none" stroke-width="1.9" />
<line x1="1654.7" y1="605.6" x2="1653.5" y2="660" stroke-width="2.0" />
<path d="M1658.4,604.9 L1703,584 L1717.8,597.4 L1717.3,603.1 L1681.9,620.4 Z" fill="#fff" stroke-width="1.8" />
<line x1="1681.9" y1="614.8" x2="1717.5" y2="597.8" stroke-width="1.2" />
<path d="M1681.9,620.4 L1698,637.8 L1698,641.5 L1679.5,625.4 Z" fill="#fff" stroke-width="1.6" />
<line x1="1658.4" y1="604.9" x2="1681.9" y2="620.4" stroke-width="1.8" />
<ellipse cx="1711.6" cy="584.2" rx="8.0" ry="5.0" transform="rotate(0 1711.6 584.2)" fill="#fff" stroke-width="1.7" />
<ellipse cx="1711.6" cy="580.3" rx="8.0" ry="5.0" transform="rotate(0 1711.6 580.3)" fill="#fff" stroke-width="1.8" />
<ellipse cx="1711.6" cy="580.3" rx="4.6" ry="2.8" transform="rotate(0 1711.6 580.3)" fill="#fff" stroke-width="1.5" />
<ellipse cx="1693.1" cy="625.6" rx="6.4" ry="4.8" transform="rotate(0 1693.1 625.6)" fill="#fff" stroke-width="2.2" />
<ellipse cx="1693.1" cy="625.6" rx="3.0" ry="2.1" transform="rotate(0 1693.1 625.6)" fill="#fff" stroke-width="1.7" />
<path d="M1712.9,683.6 L1717.8,687.3 L1717.8,682.5" fill="none" stroke-width="1.8" />
<text transform="translate(1394,86) scale(0.67,1)" font-size="48" stroke-width="0.9" fill="#000" filter="url(#nf)">23</text>
<text transform="translate(1666,122) scale(0.67,1)" font-size="48" stroke-width="0.9" fill="#000" filter="url(#nf)">28</text>
<text transform="translate(1736,168) scale(0.67,1)" font-size="48" stroke-width="0.9" fill="#000" filter="url(#nf)">33</text>
<text transform="translate(1445,187) scale(0.67,1)" font-size="48" stroke-width="0.9" fill="#000" filter="url(#nf)">32</text>
<text transform="translate(1499,407) scale(0.67,1)" font-size="48" stroke-width="0.9" fill="#000" filter="url(#nf)">29</text>
<text transform="translate(1635,404) scale(0.67,1)" font-size="48" stroke-width="0.9" fill="#000" filter="url(#nf)">24</text>
<text transform="translate(1928,413) scale(0.67,1)" font-size="48" stroke-width="0.9" fill="#000" filter="url(#nf)">27</text>
<text transform="translate(1222,457) scale(0.67,1)" font-size="48" stroke-width="0.9" fill="#000" filter="url(#nf)">26</text>
<text transform="translate(1416.5,459) scale(0.67,1)" font-size="48" stroke-width="0.9" fill="#000" filter="url(#nf)">36</text>
<text transform="translate(1319,503) scale(0.67,1)" font-size="48" stroke-width="0.9" fill="#000" filter="url(#nf)">34</text>
<text transform="translate(1812,596) scale(0.67,1)" font-size="48" stroke-width="0.9" fill="#000" filter="url(#nf)">30</text>
<text transform="translate(1570,673) scale(0.67,1)" font-size="48" stroke-width="0.9" fill="#000" filter="url(#nf)">35</text>
<text transform="translate(1100,757) scale(0.67,1)" font-size="48" stroke-width="0.9" fill="#000" filter="url(#nf)">33</text>
<text transform="translate(1219,740) scale(0.67,1)" font-size="48" stroke-width="0.9" fill="#000" filter="url(#nf)">31</text>
<text transform="translate(1340,763) scale(0.67,1)" font-size="48" stroke-width="0.9" fill="#000" filter="url(#nf)">23</text>
<line x1="1438" y1="76" x2="1482" y2="76" stroke-width="1.9" />
<line x1="1479" y1="155" x2="1525" y2="132" stroke-width="1.9" />
<line x1="1657" y1="120" x2="1612" y2="153" stroke-width="1.9" />
<line x1="1747" y1="174" x2="1679" y2="221" stroke-width="1.9" />
<line x1="1747" y1="174" x2="1645" y2="275" stroke-width="1.9" />
<line x1="1747" y1="174" x2="1655" y2="305" stroke-width="1.9" />
<line x1="1747" y1="174" x2="1720" y2="235" stroke-width="1.9" />
<line x1="1747" y1="174" x2="1710" y2="290" stroke-width="1.9" />
<line x1="1514" y1="413" x2="1518" y2="459" stroke-width="1.9" />
<line x1="1651" y1="411" x2="1614" y2="441" stroke-width="1.9" />
<line x1="1651" y1="411" x2="1655" y2="470" stroke-width="1.9" />
<line x1="1651" y1="411" x2="1631" y2="540" stroke-width="1.9" />
<line x1="1651" y1="411" x2="1695" y2="540" stroke-width="1.9" />
<line x1="1921" y1="396" x2="1864" y2="406" stroke-width="1.9" />
<line x1="1212" y1="446" x2="1165" y2="456" stroke-width="1.9" />
<line x1="1436" y1="463" x2="1452" y2="514" stroke-width="1.9" />
<line x1="1436" y1="463" x2="1532" y2="557" stroke-width="1.9" />
<line x1="1337" y1="509" x2="1360" y2="560" stroke-width="1.9" />
<line x1="1337" y1="509" x2="1527" y2="648" stroke-width="1.9" />
<line x1="1807" y1="587" x2="1765" y2="606" stroke-width="1.9" />
<line x1="1576" y1="633" x2="1429" y2="540" stroke-width="1.9" />
<line x1="1576" y1="633" x2="1541" y2="599" stroke-width="1.9" />
<line x1="1128.5" y1="717" x2="1175" y2="590" stroke-width="1.9" />
<line x1="1128.5" y1="717" x2="1215" y2="560" stroke-width="1.9" />
<line x1="1128.5" y1="717" x2="1232" y2="590" stroke-width="1.9" />
<line x1="1128.5" y1="717" x2="1160" y2="640" stroke-width="1.9" />
<line x1="1128.5" y1="717" x2="1197" y2="642" stroke-width="1.9" />
<line x1="1249" y1="702" x2="1285" y2="667" stroke-width="1.9" />
<line x1="1342" y1="723" x2="1323" y2="697" stroke-width="1.9" />
</svg>
</body></html>
